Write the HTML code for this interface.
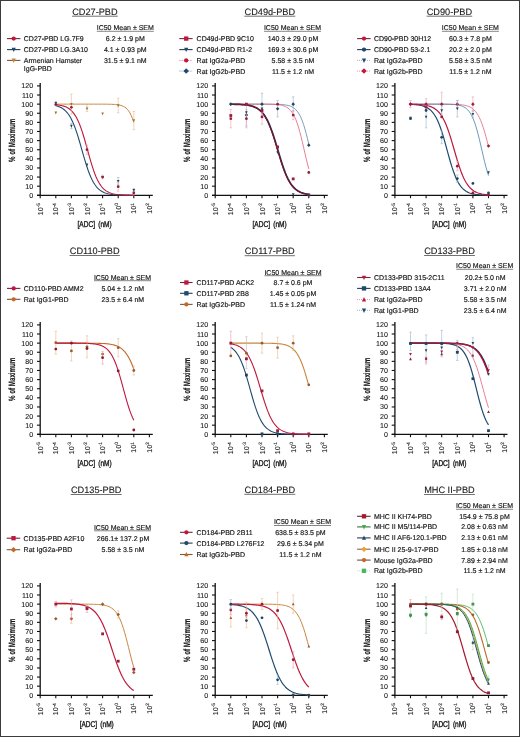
<!DOCTYPE html>
<html><head><meta charset="utf-8"><title>Figure</title>
<style>
html,body{margin:0;padding:0;background:#fff;}
body{width:520px;height:737px;overflow:hidden;position:relative;}
svg{position:absolute;left:0;top:0;display:block;filter:blur(0.3px);}
text{font-family:"Liberation Sans", sans-serif;text-rendering:geometricPrecision;}
.s{stroke:#111;stroke-width:0.16px;}
.t{stroke:#111;stroke-width:0.1px;}
.m{stroke:#111;stroke-width:0.35px;}
</style></head>
<body>
<svg width="520" height="737" viewBox="0 0 520 737">
<rect x="0" y="0" width="520" height="737" fill="#fff"/>
<text class="t" x="94.9" y="14.7" font-size="9.2" text-anchor="middle" font-weight="normal" fill="#1a1a1a" >CD27-PBD</text>
<line x1="72.05" y1="16.2" x2="117.75" y2="16.2" stroke="#333" stroke-width="0.7" />
<text class="s" x="125.3" y="30.1" font-size="7" text-anchor="middle" font-weight="normal" fill="#1a1a1a" >IC50 Mean ± SEM</text>
<line x1="96.8" y1="31.3" x2="153.8" y2="31.3" stroke="#333" stroke-width="0.6" />
<line x1="7" y1="38.6" x2="20.4" y2="38.6" stroke="#782436" stroke-width="1.1" />
<circle cx="13.7" cy="38.6" r="2.16" fill="#bf173d"/>
<text class="s" x="23.8" y="41.1" font-size="7" text-anchor="start" font-weight="normal" fill="#1a1a1a" >CD27-PBD LG.7F9</text>
<line x1="7" y1="49.6" x2="20.4" y2="49.6" stroke="#273d50" stroke-width="1.1" />
<path d="M11.6 47.79L15.8 47.79L13.7 52.11Z" fill="#1e4a70"/>
<text class="s" x="23.8" y="52.1" font-size="7" text-anchor="start" font-weight="normal" fill="#1a1a1a" >CD27-PBD LG.3A10</text>
<line x1="7" y1="60.4" x2="20.4" y2="60.4" stroke="#7c5b37" stroke-width="1.1" />
<path d="M11.6 58.59L15.8 58.59L13.7 62.91Z" fill="#c9863e"/>
<text class="s" x="23.8" y="62.9" font-size="7" text-anchor="start" font-weight="normal" fill="#1a1a1a" >Armenian Hamster</text>
<text class="s" x="23.8" y="71.4" font-size="7" text-anchor="start" font-weight="normal" fill="#1a1a1a" >IgG-PBD</text>
<text class="s" x="125.3" y="41.1" font-size="7" text-anchor="middle" font-weight="normal" fill="#1a1a1a" >6.2 ± 1.9 pM</text>
<text class="s" x="125.3" y="52.1" font-size="7" text-anchor="middle" font-weight="normal" fill="#1a1a1a" >4.1 ± 0.93 pM</text>
<text class="s" x="125.3" y="62.9" font-size="7" text-anchor="middle" font-weight="normal" fill="#1a1a1a" >31.5 ± 9.1 nM</text>
<line x1="40.2" y1="83.1" x2="40.2" y2="195.9" stroke="#111" stroke-width="1.3" />
<line x1="37" y1="195.3" x2="152.8" y2="195.3" stroke="#111" stroke-width="1.3" />
<line x1="37" y1="195.3" x2="40.2" y2="195.3" stroke="#111" stroke-width="1.1" />
<text class="t" x="33.2" y="197.8" font-size="7.1" text-anchor="end" font-weight="normal" fill="#1a1a1a" >0</text>
<line x1="37" y1="186.18" x2="40.2" y2="186.18" stroke="#111" stroke-width="1.1" />
<text class="t" x="33.2" y="188.68" font-size="7.1" text-anchor="end" font-weight="normal" fill="#1a1a1a" >10</text>
<line x1="37" y1="177.07" x2="40.2" y2="177.07" stroke="#111" stroke-width="1.1" />
<text class="t" x="33.2" y="179.57" font-size="7.1" text-anchor="end" font-weight="normal" fill="#1a1a1a" >20</text>
<line x1="37" y1="167.95" x2="40.2" y2="167.95" stroke="#111" stroke-width="1.1" />
<text class="t" x="33.2" y="170.45" font-size="7.1" text-anchor="end" font-weight="normal" fill="#1a1a1a" >30</text>
<line x1="37" y1="158.83" x2="40.2" y2="158.83" stroke="#111" stroke-width="1.1" />
<text class="t" x="33.2" y="161.33" font-size="7.1" text-anchor="end" font-weight="normal" fill="#1a1a1a" >40</text>
<line x1="37" y1="149.72" x2="40.2" y2="149.72" stroke="#111" stroke-width="1.1" />
<text class="t" x="33.2" y="152.22" font-size="7.1" text-anchor="end" font-weight="normal" fill="#1a1a1a" >50</text>
<line x1="37" y1="140.6" x2="40.2" y2="140.6" stroke="#111" stroke-width="1.1" />
<text class="t" x="33.2" y="143.1" font-size="7.1" text-anchor="end" font-weight="normal" fill="#1a1a1a" >60</text>
<line x1="37" y1="131.48" x2="40.2" y2="131.48" stroke="#111" stroke-width="1.1" />
<text class="t" x="33.2" y="133.98" font-size="7.1" text-anchor="end" font-weight="normal" fill="#1a1a1a" >70</text>
<line x1="37" y1="122.36" x2="40.2" y2="122.36" stroke="#111" stroke-width="1.1" />
<text class="t" x="33.2" y="124.86" font-size="7.1" text-anchor="end" font-weight="normal" fill="#1a1a1a" >80</text>
<line x1="37" y1="113.25" x2="40.2" y2="113.25" stroke="#111" stroke-width="1.1" />
<text class="t" x="33.2" y="115.75" font-size="7.1" text-anchor="end" font-weight="normal" fill="#1a1a1a" >90</text>
<line x1="37" y1="104.13" x2="40.2" y2="104.13" stroke="#111" stroke-width="1.1" />
<text class="t" x="33.2" y="106.63" font-size="7.1" text-anchor="end" font-weight="normal" fill="#1a1a1a" >100</text>
<line x1="37" y1="95.01" x2="40.2" y2="95.01" stroke="#111" stroke-width="1.1" />
<text class="t" x="33.2" y="97.51" font-size="7.1" text-anchor="end" font-weight="normal" fill="#1a1a1a" >110</text>
<line x1="37" y1="85.9" x2="40.2" y2="85.9" stroke="#111" stroke-width="1.1" />
<text class="t" x="33.2" y="88.4" font-size="7.1" text-anchor="end" font-weight="normal" fill="#1a1a1a" >120</text>
<line x1="40.2" y1="195.3" x2="40.2" y2="198.2" stroke="#111" stroke-width="1.1" />
<text transform="translate(42.7,203.2) rotate(-90)" font-size="7" text-anchor="end" fill="#1a1a1a" class="t">10<tspan font-size="4.8" dy="-2.7">-5</tspan></text>
<line x1="55.8" y1="195.3" x2="55.8" y2="198.2" stroke="#111" stroke-width="1.1" />
<text transform="translate(58.3,203.2) rotate(-90)" font-size="7" text-anchor="end" fill="#1a1a1a" class="t">10<tspan font-size="4.8" dy="-2.7">-4</tspan></text>
<line x1="71.4" y1="195.3" x2="71.4" y2="198.2" stroke="#111" stroke-width="1.1" />
<text transform="translate(73.9,203.2) rotate(-90)" font-size="7" text-anchor="end" fill="#1a1a1a" class="t">10<tspan font-size="4.8" dy="-2.7">-3</tspan></text>
<line x1="87" y1="195.3" x2="87" y2="198.2" stroke="#111" stroke-width="1.1" />
<text transform="translate(89.5,203.2) rotate(-90)" font-size="7" text-anchor="end" fill="#1a1a1a" class="t">10<tspan font-size="4.8" dy="-2.7">-2</tspan></text>
<line x1="102.6" y1="195.3" x2="102.6" y2="198.2" stroke="#111" stroke-width="1.1" />
<text transform="translate(105.1,203.2) rotate(-90)" font-size="7" text-anchor="end" fill="#1a1a1a" class="t">10<tspan font-size="4.8" dy="-2.7">-1</tspan></text>
<line x1="118.2" y1="195.3" x2="118.2" y2="198.2" stroke="#111" stroke-width="1.1" />
<text transform="translate(120.7,203.2) rotate(-90)" font-size="7" text-anchor="end" fill="#1a1a1a" class="t">10<tspan font-size="4.8" dy="-2.7">0</tspan></text>
<line x1="133.8" y1="195.3" x2="133.8" y2="198.2" stroke="#111" stroke-width="1.1" />
<text transform="translate(136.3,203.2) rotate(-90)" font-size="7" text-anchor="end" fill="#1a1a1a" class="t">10<tspan font-size="4.8" dy="-2.7">1</tspan></text>
<line x1="149.4" y1="195.3" x2="149.4" y2="198.2" stroke="#111" stroke-width="1.1" />
<text transform="translate(151.9,203.2) rotate(-90)" font-size="7" text-anchor="end" fill="#1a1a1a" class="t">10<tspan font-size="4.8" dy="-2.7">2</tspan></text>
<text transform="translate(15.4,140.3) rotate(-90) scale(0.68,1)" font-size="9.1" font-weight="bold" text-anchor="middle" fill="#1a1a1a" class="s">% of Maximum</text>
<text transform="translate(94.6,227.3) scale(0.78,1)" font-size="8.4" font-weight="normal" text-anchor="middle" fill="#1a1a1a" class="m" word-spacing="1.9">[ADC] (nM)</text>
<path d="M55.8 104.13 L57.1 104.13 L58.4 104.13 L59.7 104.13 L61 104.13 L62.3 104.13 L63.6 104.13 L64.9 104.13 L66.2 104.13 L67.5 104.13 L68.8 104.13 L70.1 104.13 L71.4 104.13 L72.7 104.13 L74 104.13 L75.3 104.13 L76.6 104.13 L77.9 104.13 L79.2 104.13 L80.5 104.13 L81.8 104.13 L83.1 104.13 L84.4 104.13 L85.7 104.13 L87 104.13 L88.3 104.13 L89.6 104.13 L90.9 104.13 L92.2 104.13 L93.5 104.13 L94.8 104.13 L96.1 104.14 L97.4 104.14 L98.7 104.14 L100 104.14 L101.3 104.15 L102.6 104.15 L103.9 104.16 L105.2 104.17 L106.5 104.18 L107.8 104.2 L109.1 104.23 L110.4 104.26 L111.7 104.3 L113 104.36 L114.3 104.43 L115.6 104.54 L116.9 104.67 L118.2 104.85 L119.5 105.09 L120.8 105.4 L122.1 105.82 L123.4 106.36 L124.7 107.08 L126 108.03 L127.3 109.26 L128.6 110.84 L129.9 112.86 L131.2 115.41 L132.5 118.58 L133.8 122.43" fill="none" stroke="#c9863e" stroke-width="1.0" stroke-linejoin="round" />
<path d="M55.8 105.71 L57.1 106.06 L58.4 106.47 L59.7 106.98 L61 107.59 L62.3 108.33 L63.6 109.22 L64.9 110.28 L66.2 111.54 L67.5 113.03 L68.8 114.78 L70.1 116.83 L71.4 119.19 L72.7 121.9 L74 124.96 L75.3 128.37 L76.6 132.12 L77.9 136.18 L79.2 140.48 L80.5 144.96 L81.8 149.53 L83.1 154.11 L84.4 158.6 L85.7 162.92 L87 166.99 L88.3 170.77 L89.6 174.21 L90.9 177.3 L92.2 180.03 L93.5 182.43 L94.8 184.5 L96.1 186.27 L97.4 187.78 L98.7 189.06 L100 190.14 L101.3 191.03 L102.6 191.78 L103.9 192.4 L105.2 192.92 L106.5 193.34 L107.8 193.69 L109.1 193.98 L110.4 194.22 L111.7 194.42 L113 194.58 L114.3 194.71 L115.6 194.81 L116.9 194.9 L118.2 194.98 L119.5 195.03 L120.8 195.08 L122.1 195.12 L123.4 195.15 L124.7 195.18 L126 195.2 L127.3 195.22 L128.6 195.23 L129.9 195.25 L131.2 195.26 L132.5 195.26 L133.8 195.27" fill="none" stroke="#1e4a70" stroke-width="1.1" stroke-linejoin="round" />
<path d="M55.8 104.71 L57.1 104.84 L58.4 105.01 L59.7 105.21 L61 105.45 L62.3 105.75 L63.6 106.12 L64.9 106.56 L66.2 107.1 L67.5 107.76 L68.8 108.55 L70.1 109.51 L71.4 110.66 L72.7 112.04 L74 113.67 L75.3 115.59 L76.6 117.83 L77.9 120.42 L79.2 123.38 L80.5 126.72 L81.8 130.42 L83.1 134.46 L84.4 138.78 L85.7 143.33 L87 148.02 L88.3 152.73 L89.6 157.39 L90.9 161.88 L92.2 166.14 L93.5 170.09 L94.8 173.69 L96.1 176.92 L97.4 179.77 L98.7 182.26 L100 184.41 L101.3 186.25 L102.6 187.8 L103.9 189.11 L105.2 190.2 L106.5 191.11 L107.8 191.87 L109.1 192.49 L110.4 193 L111.7 193.42 L113 193.77 L114.3 194.05 L115.6 194.28 L116.9 194.47 L118.2 194.63 L119.5 194.75 L120.8 194.85 L122.1 194.94 L123.4 195 L124.7 195.06 L126 195.1 L127.3 195.14 L128.6 195.17 L129.9 195.19 L131.2 195.21 L132.5 195.23 L133.8 195.24" fill="none" stroke="#bf173d" stroke-width="1.1" stroke-linejoin="round" />
<path d="M54.44 111.61L57.17 111.61L55.8 114.42Z" fill="#a3703a"/>
<line x1="71.4" y1="94.1" x2="71.4" y2="114.16" stroke="#e8b888" stroke-width="0.6" />
<line x1="70.2" y1="94.1" x2="72.6" y2="94.1" stroke="#e8b888" stroke-width="0.6" />
<line x1="70.2" y1="114.16" x2="72.6" y2="114.16" stroke="#e8b888" stroke-width="0.6" />
<path d="M70.04 102.95L72.77 102.95L71.4 105.76Z" fill="#a3703a"/>
<line x1="87" y1="105.95" x2="87" y2="111.42" stroke="#e8b888" stroke-width="0.6" />
<line x1="85.8" y1="105.95" x2="88.2" y2="105.95" stroke="#e8b888" stroke-width="0.6" />
<line x1="85.8" y1="111.42" x2="88.2" y2="111.42" stroke="#e8b888" stroke-width="0.6" />
<path d="M85.64 107.51L88.36 107.51L87 110.32Z" fill="#a3703a"/>
<path d="M101.23 112.52L103.96 112.52L102.6 115.33Z" fill="#a3703a"/>
<line x1="118.2" y1="98.2" x2="118.2" y2="112.79" stroke="#e8b888" stroke-width="0.6" />
<line x1="117" y1="98.2" x2="119.4" y2="98.2" stroke="#e8b888" stroke-width="0.6" />
<line x1="117" y1="112.79" x2="119.4" y2="112.79" stroke="#e8b888" stroke-width="0.6" />
<path d="M116.84 104.32L119.56 104.32L118.2 107.13Z" fill="#a3703a"/>
<line x1="133.8" y1="111.42" x2="133.8" y2="129.66" stroke="#e8b888" stroke-width="0.6" />
<line x1="132.6" y1="111.42" x2="135" y2="111.42" stroke="#e8b888" stroke-width="0.6" />
<line x1="132.6" y1="129.66" x2="135" y2="129.66" stroke="#e8b888" stroke-width="0.6" />
<path d="M132.44 119.36L135.17 119.36L133.8 122.17Z" fill="#a3703a"/>
<line x1="55.8" y1="101.39" x2="55.8" y2="105.04" stroke="#8fb0cc" stroke-width="0.6" />
<line x1="54.6" y1="101.39" x2="57" y2="101.39" stroke="#8fb0cc" stroke-width="0.6" />
<line x1="54.6" y1="105.04" x2="57" y2="105.04" stroke="#8fb0cc" stroke-width="0.6" />
<path d="M54.44 102.04L57.17 102.04L55.8 104.85Z" fill="#224460"/>
<line x1="71.4" y1="123.28" x2="71.4" y2="128.75" stroke="#8fb0cc" stroke-width="0.6" />
<line x1="70.2" y1="123.28" x2="72.6" y2="123.28" stroke="#8fb0cc" stroke-width="0.6" />
<line x1="70.2" y1="128.75" x2="72.6" y2="128.75" stroke="#8fb0cc" stroke-width="0.6" />
<path d="M70.04 124.83L72.77 124.83L71.4 127.64Z" fill="#224460"/>
<path d="M85.64 163.58L88.36 163.58L87 166.39Z" fill="#224460"/>
<path d="M101.23 175.89L103.96 175.89L102.6 178.69Z" fill="#224460"/>
<line x1="118.2" y1="177.52" x2="118.2" y2="184.82" stroke="#8fb0cc" stroke-width="0.6" />
<line x1="117" y1="177.52" x2="119.4" y2="177.52" stroke="#8fb0cc" stroke-width="0.6" />
<line x1="117" y1="184.82" x2="119.4" y2="184.82" stroke="#8fb0cc" stroke-width="0.6" />
<path d="M116.84 179.99L119.56 179.99L118.2 182.8Z" fill="#224460"/>
<line x1="133.8" y1="188.46" x2="133.8" y2="192.11" stroke="#8fb0cc" stroke-width="0.6" />
<line x1="132.6" y1="188.46" x2="135" y2="188.46" stroke="#8fb0cc" stroke-width="0.6" />
<line x1="132.6" y1="192.11" x2="135" y2="192.11" stroke="#8fb0cc" stroke-width="0.6" />
<path d="M132.44 189.11L135.17 189.11L133.8 191.91Z" fill="#224460"/>
<circle cx="55.8" cy="104.59" r="1.4" fill="#9b1d3a"/>
<circle cx="71.4" cy="107.32" r="1.4" fill="#9b1d3a"/>
<line x1="87" y1="145.16" x2="87" y2="154.27" stroke="#ec9aaa" stroke-width="0.6" />
<line x1="85.8" y1="145.16" x2="88.2" y2="145.16" stroke="#ec9aaa" stroke-width="0.6" />
<line x1="85.8" y1="154.27" x2="88.2" y2="154.27" stroke="#ec9aaa" stroke-width="0.6" />
<circle cx="87" cy="149.72" r="1.4" fill="#9b1d3a"/>
<line x1="102.6" y1="175.24" x2="102.6" y2="178.89" stroke="#ec9aaa" stroke-width="0.6" />
<line x1="101.4" y1="175.24" x2="103.8" y2="175.24" stroke="#ec9aaa" stroke-width="0.6" />
<line x1="101.4" y1="178.89" x2="103.8" y2="178.89" stroke="#ec9aaa" stroke-width="0.6" />
<circle cx="102.6" cy="177.07" r="1.4" fill="#9b1d3a"/>
<line x1="118.2" y1="182.08" x2="118.2" y2="191.2" stroke="#ec9aaa" stroke-width="0.6" />
<line x1="117" y1="182.08" x2="119.4" y2="182.08" stroke="#ec9aaa" stroke-width="0.6" />
<line x1="117" y1="191.2" x2="119.4" y2="191.2" stroke="#ec9aaa" stroke-width="0.6" />
<circle cx="118.2" cy="186.64" r="1.4" fill="#9b1d3a"/>
<line x1="133.8" y1="191.2" x2="133.8" y2="194.84" stroke="#ec9aaa" stroke-width="0.6" />
<line x1="132.6" y1="191.2" x2="135" y2="191.2" stroke="#ec9aaa" stroke-width="0.6" />
<line x1="132.6" y1="194.84" x2="135" y2="194.84" stroke="#ec9aaa" stroke-width="0.6" />
<circle cx="133.8" cy="193.02" r="1.4" fill="#9b1d3a"/>
<text class="t" x="269.8" y="14.7" font-size="9.2" text-anchor="middle" font-weight="normal" fill="#1a1a1a" >CD49d-PBD</text>
<line x1="244.3" y1="16.2" x2="295.3" y2="16.2" stroke="#333" stroke-width="0.7" />
<text class="s" x="292.5" y="30.1" font-size="7" text-anchor="middle" font-weight="normal" fill="#1a1a1a" >IC50 Mean ± SEM</text>
<line x1="264" y1="31.3" x2="321" y2="31.3" stroke="#333" stroke-width="0.6" />
<line x1="179.3" y1="38.6" x2="192.6" y2="38.6" stroke="#782436" stroke-width="1.1" />
<rect x="184.04" y="36.44" width="4.32" height="4.32" fill="#bf173d"/>
<text class="s" x="196.6" y="41.1" font-size="7" text-anchor="start" font-weight="normal" fill="#1a1a1a" >CD49d-PBD 9C10</text>
<line x1="179.3" y1="49.6" x2="192.6" y2="49.6" stroke="#273d50" stroke-width="1.1" />
<path d="M184.1 47.79L188.3 47.79L186.2 52.11Z" fill="#1e4a70"/>
<text class="s" x="196.6" y="52.1" font-size="7" text-anchor="start" font-weight="normal" fill="#1a1a1a" >CD49d-PBD R1-2</text>
<line x1="179.3" y1="60.4" x2="192.6" y2="60.4" stroke="#e0607a" stroke-width="0.8" stroke-dasharray="1.2,1"/>
<circle cx="186.2" cy="60.4" r="2.16" fill="#bf173d"/>
<text class="s" x="196.6" y="62.9" font-size="7" text-anchor="start" font-weight="normal" fill="#1a1a1a" >Rat IgG2a-PBD</text>
<line x1="179.3" y1="71.1" x2="192.6" y2="71.1" stroke="#6f8fb0" stroke-width="0.8" stroke-dasharray="1.2,1"/>
<path d="M186.2 68.34L188.96 71.1L186.2 73.86L183.44 71.1Z" fill="#1e4a70"/>
<text class="s" x="196.6" y="73.6" font-size="7" text-anchor="start" font-weight="normal" fill="#1a1a1a" >Rat IgG2b-PBD</text>
<text class="s" x="293" y="41.1" font-size="7" text-anchor="middle" font-weight="normal" fill="#1a1a1a" >140.3 ± 29.0 pM</text>
<text class="s" x="293" y="52.1" font-size="7" text-anchor="middle" font-weight="normal" fill="#1a1a1a" >169.3 ± 30.6 pM</text>
<text class="s" x="293" y="62.9" font-size="7" text-anchor="middle" font-weight="normal" fill="#1a1a1a" >5.58 ± 3.5 nM</text>
<text class="s" x="293" y="73.6" font-size="7" text-anchor="middle" font-weight="normal" fill="#1a1a1a" >11.5 ± 1.2 nM</text>
<line x1="215.2" y1="83.1" x2="215.2" y2="195.9" stroke="#111" stroke-width="1.3" />
<line x1="212" y1="195.3" x2="327.8" y2="195.3" stroke="#111" stroke-width="1.3" />
<line x1="212" y1="195.3" x2="215.2" y2="195.3" stroke="#111" stroke-width="1.1" />
<text class="t" x="208.2" y="197.8" font-size="7.1" text-anchor="end" font-weight="normal" fill="#1a1a1a" >0</text>
<line x1="212" y1="186.18" x2="215.2" y2="186.18" stroke="#111" stroke-width="1.1" />
<text class="t" x="208.2" y="188.68" font-size="7.1" text-anchor="end" font-weight="normal" fill="#1a1a1a" >10</text>
<line x1="212" y1="177.07" x2="215.2" y2="177.07" stroke="#111" stroke-width="1.1" />
<text class="t" x="208.2" y="179.57" font-size="7.1" text-anchor="end" font-weight="normal" fill="#1a1a1a" >20</text>
<line x1="212" y1="167.95" x2="215.2" y2="167.95" stroke="#111" stroke-width="1.1" />
<text class="t" x="208.2" y="170.45" font-size="7.1" text-anchor="end" font-weight="normal" fill="#1a1a1a" >30</text>
<line x1="212" y1="158.83" x2="215.2" y2="158.83" stroke="#111" stroke-width="1.1" />
<text class="t" x="208.2" y="161.33" font-size="7.1" text-anchor="end" font-weight="normal" fill="#1a1a1a" >40</text>
<line x1="212" y1="149.72" x2="215.2" y2="149.72" stroke="#111" stroke-width="1.1" />
<text class="t" x="208.2" y="152.22" font-size="7.1" text-anchor="end" font-weight="normal" fill="#1a1a1a" >50</text>
<line x1="212" y1="140.6" x2="215.2" y2="140.6" stroke="#111" stroke-width="1.1" />
<text class="t" x="208.2" y="143.1" font-size="7.1" text-anchor="end" font-weight="normal" fill="#1a1a1a" >60</text>
<line x1="212" y1="131.48" x2="215.2" y2="131.48" stroke="#111" stroke-width="1.1" />
<text class="t" x="208.2" y="133.98" font-size="7.1" text-anchor="end" font-weight="normal" fill="#1a1a1a" >70</text>
<line x1="212" y1="122.36" x2="215.2" y2="122.36" stroke="#111" stroke-width="1.1" />
<text class="t" x="208.2" y="124.86" font-size="7.1" text-anchor="end" font-weight="normal" fill="#1a1a1a" >80</text>
<line x1="212" y1="113.25" x2="215.2" y2="113.25" stroke="#111" stroke-width="1.1" />
<text class="t" x="208.2" y="115.75" font-size="7.1" text-anchor="end" font-weight="normal" fill="#1a1a1a" >90</text>
<line x1="212" y1="104.13" x2="215.2" y2="104.13" stroke="#111" stroke-width="1.1" />
<text class="t" x="208.2" y="106.63" font-size="7.1" text-anchor="end" font-weight="normal" fill="#1a1a1a" >100</text>
<line x1="212" y1="95.01" x2="215.2" y2="95.01" stroke="#111" stroke-width="1.1" />
<text class="t" x="208.2" y="97.51" font-size="7.1" text-anchor="end" font-weight="normal" fill="#1a1a1a" >110</text>
<line x1="212" y1="85.9" x2="215.2" y2="85.9" stroke="#111" stroke-width="1.1" />
<text class="t" x="208.2" y="88.4" font-size="7.1" text-anchor="end" font-weight="normal" fill="#1a1a1a" >120</text>
<line x1="215.2" y1="195.3" x2="215.2" y2="198.2" stroke="#111" stroke-width="1.1" />
<text transform="translate(217.7,203.2) rotate(-90)" font-size="7" text-anchor="end" fill="#1a1a1a" class="t">10<tspan font-size="4.8" dy="-2.7">-5</tspan></text>
<line x1="230.8" y1="195.3" x2="230.8" y2="198.2" stroke="#111" stroke-width="1.1" />
<text transform="translate(233.3,203.2) rotate(-90)" font-size="7" text-anchor="end" fill="#1a1a1a" class="t">10<tspan font-size="4.8" dy="-2.7">-4</tspan></text>
<line x1="246.4" y1="195.3" x2="246.4" y2="198.2" stroke="#111" stroke-width="1.1" />
<text transform="translate(248.9,203.2) rotate(-90)" font-size="7" text-anchor="end" fill="#1a1a1a" class="t">10<tspan font-size="4.8" dy="-2.7">-3</tspan></text>
<line x1="262" y1="195.3" x2="262" y2="198.2" stroke="#111" stroke-width="1.1" />
<text transform="translate(264.5,203.2) rotate(-90)" font-size="7" text-anchor="end" fill="#1a1a1a" class="t">10<tspan font-size="4.8" dy="-2.7">-2</tspan></text>
<line x1="277.6" y1="195.3" x2="277.6" y2="198.2" stroke="#111" stroke-width="1.1" />
<text transform="translate(280.1,203.2) rotate(-90)" font-size="7" text-anchor="end" fill="#1a1a1a" class="t">10<tspan font-size="4.8" dy="-2.7">-1</tspan></text>
<line x1="293.2" y1="195.3" x2="293.2" y2="198.2" stroke="#111" stroke-width="1.1" />
<text transform="translate(295.7,203.2) rotate(-90)" font-size="7" text-anchor="end" fill="#1a1a1a" class="t">10<tspan font-size="4.8" dy="-2.7">0</tspan></text>
<line x1="308.8" y1="195.3" x2="308.8" y2="198.2" stroke="#111" stroke-width="1.1" />
<text transform="translate(311.3,203.2) rotate(-90)" font-size="7" text-anchor="end" fill="#1a1a1a" class="t">10<tspan font-size="4.8" dy="-2.7">1</tspan></text>
<line x1="324.4" y1="195.3" x2="324.4" y2="198.2" stroke="#111" stroke-width="1.1" />
<text transform="translate(326.9,203.2) rotate(-90)" font-size="7" text-anchor="end" fill="#1a1a1a" class="t">10<tspan font-size="4.8" dy="-2.7">2</tspan></text>
<text transform="translate(190.4,140.3) rotate(-90) scale(0.68,1)" font-size="9.1" font-weight="bold" text-anchor="middle" fill="#1a1a1a" class="s">% of Maximum</text>
<text transform="translate(269.6,227.3) scale(0.78,1)" font-size="8.4" font-weight="normal" text-anchor="middle" fill="#1a1a1a" class="m" word-spacing="1.9">[ADC] (nM)</text>
<path d="M230.8 104.13 L232.1 104.13 L233.4 104.13 L234.7 104.13 L236 104.13 L237.3 104.13 L238.6 104.13 L239.9 104.13 L241.2 104.13 L242.5 104.13 L243.8 104.13 L245.1 104.13 L246.4 104.13 L247.7 104.13 L249 104.13 L250.3 104.13 L251.6 104.13 L252.9 104.13 L254.2 104.13 L255.5 104.13 L256.8 104.13 L258.1 104.13 L259.4 104.14 L260.7 104.14 L262 104.14 L263.3 104.14 L264.6 104.14 L265.9 104.15 L267.2 104.15 L268.5 104.16 L269.8 104.17 L271.1 104.18 L272.4 104.2 L273.7 104.22 L275 104.24 L276.3 104.27 L277.6 104.31 L278.9 104.36 L280.2 104.43 L281.5 104.51 L282.8 104.62 L284.1 104.75 L285.4 104.93 L286.7 105.15 L288 105.44 L289.3 105.8 L290.6 106.26 L291.9 106.85 L293.2 107.59 L294.5 108.52 L295.8 109.69 L297.1 111.15 L298.4 112.94 L299.7 115.14 L301 117.79 L302.3 120.94 L303.6 124.64 L304.9 128.87 L306.2 133.61 L307.5 138.79 L308.8 144.28" fill="none" stroke="#5a86a8" stroke-width="0.8" stroke-linejoin="round" />
<path d="M230.8 104.13 L232.1 104.13 L233.4 104.13 L234.7 104.13 L236 104.13 L237.3 104.13 L238.6 104.13 L239.9 104.13 L241.2 104.13 L242.5 104.13 L243.8 104.13 L245.1 104.13 L246.4 104.13 L247.7 104.13 L249 104.13 L250.3 104.13 L251.6 104.13 L252.9 104.13 L254.2 104.14 L255.5 104.14 L256.8 104.14 L258.1 104.14 L259.4 104.15 L260.7 104.15 L262 104.16 L263.3 104.17 L264.6 104.18 L265.9 104.19 L267.2 104.21 L268.5 104.23 L269.8 104.26 L271.1 104.29 L272.4 104.34 L273.7 104.4 L275 104.47 L276.3 104.57 L277.6 104.69 L278.9 104.85 L280.2 105.05 L281.5 105.3 L282.8 105.63 L284.1 106.05 L285.4 106.57 L286.7 107.24 L288 108.09 L289.3 109.15 L290.6 110.47 L291.9 112.11 L293.2 114.12 L294.5 116.56 L295.8 119.49 L297.1 122.94 L298.4 126.94 L299.7 131.47 L301 136.46 L302.3 141.84 L303.6 147.44 L304.9 153.12 L306.2 158.69 L307.5 164 L308.8 168.91" fill="none" stroke="#e0607a" stroke-width="0.8" stroke-linejoin="round" />
<path d="M230.8 104.22 L232.1 104.24 L233.4 104.26 L234.7 104.29 L236 104.32 L237.3 104.36 L238.6 104.41 L239.9 104.47 L241.2 104.54 L242.5 104.63 L243.8 104.73 L245.1 104.86 L246.4 105.01 L247.7 105.2 L249 105.42 L250.3 105.69 L251.6 106.01 L252.9 106.4 L254.2 106.86 L255.5 107.42 L256.8 108.09 L258.1 108.88 L259.4 109.82 L260.7 110.94 L262 112.25 L263.3 113.78 L264.6 115.57 L265.9 117.63 L267.2 119.99 L268.5 122.66 L269.8 125.65 L271.1 128.97 L272.4 132.58 L273.7 136.46 L275 140.57 L276.3 144.84 L277.6 149.19 L278.9 153.55 L280.2 157.85 L281.5 162 L282.8 165.94 L284.1 169.62 L285.4 173.01 L286.7 176.08 L288 178.83 L289.3 181.26 L290.6 183.39 L291.9 185.24 L293.2 186.84 L294.5 188.2 L295.8 189.36 L297.1 190.34 L298.4 191.17 L299.7 191.86 L301 192.44 L302.3 192.93 L303.6 193.33 L304.9 193.67 L306.2 193.95 L307.5 194.18 L308.8 194.38" fill="none" stroke="#2a2a4a" stroke-width="1.7" stroke-linejoin="round" />
<path d="M230.8 104.22 L232.1 104.24 L233.4 104.27 L234.7 104.3 L236 104.33 L237.3 104.37 L238.6 104.42 L239.9 104.49 L241.2 104.56 L242.5 104.65 L243.8 104.76 L245.1 104.89 L246.4 105.05 L247.7 105.25 L249 105.48 L250.3 105.76 L251.6 106.1 L252.9 106.5 L254.2 106.99 L255.5 107.57 L256.8 108.26 L258.1 109.09 L259.4 110.07 L260.7 111.23 L262 112.59 L263.3 114.19 L264.6 116.04 L265.9 118.17 L267.2 120.6 L268.5 123.35 L269.8 126.42 L271.1 129.81 L272.4 133.49 L273.7 137.43 L275 141.58 L276.3 145.88 L277.6 150.24 L278.9 154.59 L280.2 158.86 L281.5 162.97 L282.8 166.85 L284.1 170.46 L285.4 173.78 L286.7 176.77 L288 179.44 L289.3 181.8 L290.6 183.86 L291.9 185.65 L293.2 187.18 L294.5 188.49 L295.8 189.61 L297.1 190.55 L298.4 191.34 L299.7 192.01 L301 192.57 L302.3 193.03 L303.6 193.42 L304.9 193.74 L306.2 194.01 L307.5 194.23 L308.8 194.42" fill="none" stroke="#7a1632" stroke-width="1.1" stroke-linejoin="round" />
<path d="M230.8 102.34L232.59 104.13L230.8 105.92L229.01 104.13Z" fill="#224460"/>
<line x1="246.4" y1="104.13" x2="246.4" y2="126.01" stroke="#98b4cc" stroke-width="0.6" />
<line x1="245.2" y1="104.13" x2="247.6" y2="104.13" stroke="#98b4cc" stroke-width="0.6" />
<line x1="245.2" y1="126.01" x2="247.6" y2="126.01" stroke="#98b4cc" stroke-width="0.6" />
<path d="M246.4 113.28L248.19 115.07L246.4 116.86L244.61 115.07Z" fill="#224460"/>
<line x1="262" y1="93.19" x2="262" y2="115.07" stroke="#98b4cc" stroke-width="0.6" />
<line x1="260.8" y1="93.19" x2="263.2" y2="93.19" stroke="#98b4cc" stroke-width="0.6" />
<line x1="260.8" y1="115.07" x2="263.2" y2="115.07" stroke="#98b4cc" stroke-width="0.6" />
<path d="M262 102.34L263.79 104.13L262 105.92L260.21 104.13Z" fill="#224460"/>
<line x1="277.6" y1="100.48" x2="277.6" y2="116.89" stroke="#98b4cc" stroke-width="0.6" />
<line x1="276.4" y1="100.48" x2="278.8" y2="100.48" stroke="#98b4cc" stroke-width="0.6" />
<line x1="276.4" y1="116.89" x2="278.8" y2="116.89" stroke="#98b4cc" stroke-width="0.6" />
<path d="M277.6 106.89L279.39 108.69L277.6 110.48L275.81 108.69Z" fill="#224460"/>
<line x1="293.2" y1="96.84" x2="293.2" y2="111.42" stroke="#98b4cc" stroke-width="0.6" />
<line x1="292" y1="96.84" x2="294.4" y2="96.84" stroke="#98b4cc" stroke-width="0.6" />
<line x1="292" y1="111.42" x2="294.4" y2="111.42" stroke="#98b4cc" stroke-width="0.6" />
<path d="M293.2 102.34L294.99 104.13L293.2 105.92L291.41 104.13Z" fill="#224460"/>
<path d="M308.8 143.36L310.59 145.16L308.8 146.95L307.01 145.16Z" fill="#224460"/>
<line x1="230.8" y1="109.6" x2="230.8" y2="127.83" stroke="#ef9fb0" stroke-width="0.6" />
<line x1="229.6" y1="109.6" x2="232" y2="109.6" stroke="#ef9fb0" stroke-width="0.6" />
<line x1="229.6" y1="127.83" x2="232" y2="127.83" stroke="#ef9fb0" stroke-width="0.6" />
<circle cx="230.8" cy="118.72" r="1.4" fill="#9b1d3a"/>
<line x1="246.4" y1="109.6" x2="246.4" y2="127.83" stroke="#ef9fb0" stroke-width="0.6" />
<line x1="245.2" y1="109.6" x2="247.6" y2="109.6" stroke="#ef9fb0" stroke-width="0.6" />
<line x1="245.2" y1="127.83" x2="247.6" y2="127.83" stroke="#ef9fb0" stroke-width="0.6" />
<circle cx="246.4" cy="118.72" r="1.4" fill="#9b1d3a"/>
<line x1="262" y1="109.6" x2="262" y2="124.19" stroke="#ef9fb0" stroke-width="0.6" />
<line x1="260.8" y1="109.6" x2="263.2" y2="109.6" stroke="#ef9fb0" stroke-width="0.6" />
<line x1="260.8" y1="124.19" x2="263.2" y2="124.19" stroke="#ef9fb0" stroke-width="0.6" />
<circle cx="262" cy="116.89" r="1.4" fill="#9b1d3a"/>
<circle cx="277.6" cy="104.13" r="1.4" fill="#9b1d3a"/>
<line x1="293.2" y1="110.51" x2="293.2" y2="119.63" stroke="#ef9fb0" stroke-width="0.6" />
<line x1="292" y1="110.51" x2="294.4" y2="110.51" stroke="#ef9fb0" stroke-width="0.6" />
<line x1="292" y1="119.63" x2="294.4" y2="119.63" stroke="#ef9fb0" stroke-width="0.6" />
<circle cx="293.2" cy="115.07" r="1.4" fill="#9b1d3a"/>
<circle cx="308.8" cy="172.51" r="1.4" fill="#9b1d3a"/>
<rect x="229.4" y="114.12" width="2.81" height="2.81" fill="#9b1d3a"/>
<rect x="245" y="102.73" width="2.81" height="2.81" fill="#9b1d3a"/>
<rect x="260.6" y="109.11" width="2.81" height="2.81" fill="#9b1d3a"/>
<rect x="276.2" y="145.58" width="2.81" height="2.81" fill="#9b1d3a"/>
<rect x="291.8" y="177.49" width="2.81" height="2.81" fill="#9b1d3a"/>
<rect x="307.4" y="193.44" width="2.81" height="2.81" fill="#9b1d3a"/>
<path d="M229.43 102.95L232.16 102.95L230.8 105.76Z" fill="#224460"/>
<path d="M245.03 111.16L247.76 111.16L246.4 113.96Z" fill="#224460"/>
<path d="M260.63 107.51L263.37 107.51L262 110.32Z" fill="#224460"/>
<path d="M276.23 151.27L278.96 151.27L277.6 154.08Z" fill="#224460"/>
<path d="M291.83 193.21L294.56 193.21L293.2 196.02Z" fill="#224460"/>
<path d="M307.43 194.12L310.16 194.12L308.8 196.93Z" fill="#224460"/>
<text class="t" x="449.4" y="14.7" font-size="9.2" text-anchor="middle" font-weight="normal" fill="#1a1a1a" >CD90-PBD</text>
<line x1="426.55" y1="16.2" x2="472.25" y2="16.2" stroke="#333" stroke-width="0.7" />
<text class="s" x="470.4" y="30.1" font-size="7" text-anchor="middle" font-weight="normal" fill="#1a1a1a" >IC50 Mean ± SEM</text>
<line x1="441.9" y1="31.3" x2="498.9" y2="31.3" stroke="#333" stroke-width="0.6" />
<line x1="357.1" y1="38.6" x2="370.6" y2="38.6" stroke="#782436" stroke-width="1.1" />
<circle cx="364" cy="38.6" r="2.16" fill="#bf173d"/>
<text class="s" x="373.9" y="41.1" font-size="7" text-anchor="start" font-weight="normal" fill="#1a1a1a" >CD90-PBD 30H12</text>
<line x1="357.1" y1="49.6" x2="370.6" y2="49.6" stroke="#273d50" stroke-width="1.1" />
<circle cx="364" cy="49.6" r="2.16" fill="#1e4a70"/>
<text class="s" x="373.9" y="52.1" font-size="7" text-anchor="start" font-weight="normal" fill="#1a1a1a" >CD90-PBD 53-2.1</text>
<line x1="357.1" y1="60.4" x2="370.6" y2="60.4" stroke="#6f8fb0" stroke-width="0.8" stroke-dasharray="0.8,1.2"/>
<path d="M361.9 58.59L366.1 58.59L364 62.91Z" fill="#1e4a70"/>
<text class="s" x="373.9" y="62.9" font-size="7" text-anchor="start" font-weight="normal" fill="#1a1a1a" >Rat IgG2a-PBD</text>
<line x1="357.1" y1="71.1" x2="370.6" y2="71.1" stroke="#e0607a" stroke-width="0.8" stroke-dasharray="0.8,1.2"/>
<path d="M364 68.34L366.76 71.1L364 73.86L361.24 71.1Z" fill="#bf173d"/>
<text class="s" x="373.9" y="73.6" font-size="7" text-anchor="start" font-weight="normal" fill="#1a1a1a" >Rat IgG2b-PBD</text>
<text class="s" x="470.4" y="41.1" font-size="7" text-anchor="middle" font-weight="normal" fill="#1a1a1a" >60.3 ± 7.8 pM</text>
<text class="s" x="470.4" y="52.1" font-size="7" text-anchor="middle" font-weight="normal" fill="#1a1a1a" >20.2 ± 2.0 pM</text>
<text class="s" x="470.4" y="62.9" font-size="7" text-anchor="middle" font-weight="normal" fill="#1a1a1a" >5.58 ± 3.5 nM</text>
<text class="s" x="470.4" y="73.6" font-size="7" text-anchor="middle" font-weight="normal" fill="#1a1a1a" >11.5 ± 1.2 nM</text>
<line x1="394.9" y1="83.1" x2="394.9" y2="195.9" stroke="#111" stroke-width="1.3" />
<line x1="391.7" y1="195.3" x2="507.5" y2="195.3" stroke="#111" stroke-width="1.3" />
<line x1="391.7" y1="195.3" x2="394.9" y2="195.3" stroke="#111" stroke-width="1.1" />
<text class="t" x="387.9" y="197.8" font-size="7.1" text-anchor="end" font-weight="normal" fill="#1a1a1a" >0</text>
<line x1="391.7" y1="186.18" x2="394.9" y2="186.18" stroke="#111" stroke-width="1.1" />
<text class="t" x="387.9" y="188.68" font-size="7.1" text-anchor="end" font-weight="normal" fill="#1a1a1a" >10</text>
<line x1="391.7" y1="177.07" x2="394.9" y2="177.07" stroke="#111" stroke-width="1.1" />
<text class="t" x="387.9" y="179.57" font-size="7.1" text-anchor="end" font-weight="normal" fill="#1a1a1a" >20</text>
<line x1="391.7" y1="167.95" x2="394.9" y2="167.95" stroke="#111" stroke-width="1.1" />
<text class="t" x="387.9" y="170.45" font-size="7.1" text-anchor="end" font-weight="normal" fill="#1a1a1a" >30</text>
<line x1="391.7" y1="158.83" x2="394.9" y2="158.83" stroke="#111" stroke-width="1.1" />
<text class="t" x="387.9" y="161.33" font-size="7.1" text-anchor="end" font-weight="normal" fill="#1a1a1a" >40</text>
<line x1="391.7" y1="149.72" x2="394.9" y2="149.72" stroke="#111" stroke-width="1.1" />
<text class="t" x="387.9" y="152.22" font-size="7.1" text-anchor="end" font-weight="normal" fill="#1a1a1a" >50</text>
<line x1="391.7" y1="140.6" x2="394.9" y2="140.6" stroke="#111" stroke-width="1.1" />
<text class="t" x="387.9" y="143.1" font-size="7.1" text-anchor="end" font-weight="normal" fill="#1a1a1a" >60</text>
<line x1="391.7" y1="131.48" x2="394.9" y2="131.48" stroke="#111" stroke-width="1.1" />
<text class="t" x="387.9" y="133.98" font-size="7.1" text-anchor="end" font-weight="normal" fill="#1a1a1a" >70</text>
<line x1="391.7" y1="122.36" x2="394.9" y2="122.36" stroke="#111" stroke-width="1.1" />
<text class="t" x="387.9" y="124.86" font-size="7.1" text-anchor="end" font-weight="normal" fill="#1a1a1a" >80</text>
<line x1="391.7" y1="113.25" x2="394.9" y2="113.25" stroke="#111" stroke-width="1.1" />
<text class="t" x="387.9" y="115.75" font-size="7.1" text-anchor="end" font-weight="normal" fill="#1a1a1a" >90</text>
<line x1="391.7" y1="104.13" x2="394.9" y2="104.13" stroke="#111" stroke-width="1.1" />
<text class="t" x="387.9" y="106.63" font-size="7.1" text-anchor="end" font-weight="normal" fill="#1a1a1a" >100</text>
<line x1="391.7" y1="95.01" x2="394.9" y2="95.01" stroke="#111" stroke-width="1.1" />
<text class="t" x="387.9" y="97.51" font-size="7.1" text-anchor="end" font-weight="normal" fill="#1a1a1a" >110</text>
<line x1="391.7" y1="85.9" x2="394.9" y2="85.9" stroke="#111" stroke-width="1.1" />
<text class="t" x="387.9" y="88.4" font-size="7.1" text-anchor="end" font-weight="normal" fill="#1a1a1a" >120</text>
<line x1="394.9" y1="195.3" x2="394.9" y2="198.2" stroke="#111" stroke-width="1.1" />
<text transform="translate(397.4,203.2) rotate(-90)" font-size="7" text-anchor="end" fill="#1a1a1a" class="t">10<tspan font-size="4.8" dy="-2.7">-5</tspan></text>
<line x1="410.5" y1="195.3" x2="410.5" y2="198.2" stroke="#111" stroke-width="1.1" />
<text transform="translate(413,203.2) rotate(-90)" font-size="7" text-anchor="end" fill="#1a1a1a" class="t">10<tspan font-size="4.8" dy="-2.7">-4</tspan></text>
<line x1="426.1" y1="195.3" x2="426.1" y2="198.2" stroke="#111" stroke-width="1.1" />
<text transform="translate(428.6,203.2) rotate(-90)" font-size="7" text-anchor="end" fill="#1a1a1a" class="t">10<tspan font-size="4.8" dy="-2.7">-3</tspan></text>
<line x1="441.7" y1="195.3" x2="441.7" y2="198.2" stroke="#111" stroke-width="1.1" />
<text transform="translate(444.2,203.2) rotate(-90)" font-size="7" text-anchor="end" fill="#1a1a1a" class="t">10<tspan font-size="4.8" dy="-2.7">-2</tspan></text>
<line x1="457.3" y1="195.3" x2="457.3" y2="198.2" stroke="#111" stroke-width="1.1" />
<text transform="translate(459.8,203.2) rotate(-90)" font-size="7" text-anchor="end" fill="#1a1a1a" class="t">10<tspan font-size="4.8" dy="-2.7">-1</tspan></text>
<line x1="472.9" y1="195.3" x2="472.9" y2="198.2" stroke="#111" stroke-width="1.1" />
<text transform="translate(475.4,203.2) rotate(-90)" font-size="7" text-anchor="end" fill="#1a1a1a" class="t">10<tspan font-size="4.8" dy="-2.7">0</tspan></text>
<line x1="488.5" y1="195.3" x2="488.5" y2="198.2" stroke="#111" stroke-width="1.1" />
<text transform="translate(491,203.2) rotate(-90)" font-size="7" text-anchor="end" fill="#1a1a1a" class="t">10<tspan font-size="4.8" dy="-2.7">1</tspan></text>
<line x1="504.1" y1="195.3" x2="504.1" y2="198.2" stroke="#111" stroke-width="1.1" />
<text transform="translate(506.6,203.2) rotate(-90)" font-size="7" text-anchor="end" fill="#1a1a1a" class="t">10<tspan font-size="4.8" dy="-2.7">2</tspan></text>
<text transform="translate(370.1,140.3) rotate(-90) scale(0.68,1)" font-size="9.1" font-weight="bold" text-anchor="middle" fill="#1a1a1a" class="s">% of Maximum</text>
<text transform="translate(449.3,227.3) scale(0.78,1)" font-size="8.4" font-weight="normal" text-anchor="middle" fill="#1a1a1a" class="m" word-spacing="1.9">[ADC] (nM)</text>
<path d="M410.5 104.13 L411.8 104.13 L413.1 104.13 L414.4 104.13 L415.7 104.13 L417 104.13 L418.3 104.13 L419.6 104.13 L420.9 104.13 L422.2 104.13 L423.5 104.13 L424.8 104.13 L426.1 104.13 L427.4 104.13 L428.7 104.13 L430 104.13 L431.3 104.13 L432.6 104.13 L433.9 104.14 L435.2 104.14 L436.5 104.14 L437.8 104.14 L439.1 104.14 L440.4 104.15 L441.7 104.15 L443 104.16 L444.3 104.16 L445.6 104.17 L446.9 104.18 L448.2 104.19 L449.5 104.21 L450.8 104.23 L452.1 104.26 L453.4 104.29 L454.7 104.33 L456 104.38 L457.3 104.45 L458.6 104.53 L459.9 104.63 L461.2 104.76 L462.5 104.92 L463.8 105.12 L465.1 105.37 L466.4 105.69 L467.7 106.08 L469 106.57 L470.3 107.19 L471.6 107.94 L472.9 108.88 L474.2 110.03 L475.5 111.43 L476.8 113.14 L478.1 115.19 L479.4 117.63 L480.7 120.5 L482 123.82 L483.3 127.6 L484.6 131.83 L485.9 136.46 L487.2 141.41 L488.5 146.57" fill="none" stroke="#e0607a" stroke-width="0.8" stroke-linejoin="round" />
<path d="M410.5 104.13 L411.8 104.13 L413.1 104.13 L414.4 104.13 L415.7 104.13 L417 104.13 L418.3 104.13 L419.6 104.13 L420.9 104.13 L422.2 104.13 L423.5 104.13 L424.8 104.13 L426.1 104.13 L427.4 104.13 L428.7 104.13 L430 104.13 L431.3 104.14 L432.6 104.14 L433.9 104.14 L435.2 104.14 L436.5 104.15 L437.8 104.15 L439.1 104.16 L440.4 104.16 L441.7 104.17 L443 104.18 L444.3 104.2 L445.6 104.22 L446.9 104.24 L448.2 104.27 L449.5 104.32 L450.8 104.37 L452.1 104.43 L453.4 104.52 L454.7 104.63 L456 104.77 L457.3 104.95 L458.6 105.18 L459.9 105.48 L461.2 105.85 L462.5 106.33 L463.8 106.93 L465.1 107.69 L466.4 108.65 L467.7 109.85 L469 111.34 L470.3 113.18 L471.6 115.43 L472.9 118.14 L474.2 121.36 L475.5 125.12 L476.8 129.41 L478.1 134.21 L479.4 139.43 L480.7 144.96 L482 150.62 L483.3 156.26 L484.6 161.71 L485.9 166.81 L487.2 171.45 L488.5 175.58" fill="none" stroke="#4a7ba8" stroke-width="0.8" stroke-linejoin="round" />
<path d="M410.5 104.39 L411.8 104.45 L413.1 104.52 L414.4 104.61 L415.7 104.72 L417 104.85 L418.3 105.02 L419.6 105.23 L420.9 105.48 L422.2 105.78 L423.5 106.16 L424.8 106.62 L426.1 107.18 L427.4 107.86 L428.7 108.69 L430 109.68 L431.3 110.88 L432.6 112.31 L433.9 114 L435.2 116 L436.5 118.33 L437.8 121.02 L439.1 124.09 L440.4 127.55 L441.7 131.37 L443 135.52 L444.3 139.95 L445.6 144.59 L446.9 149.33 L448.2 154.09 L449.5 158.75 L450.8 163.22 L452.1 167.42 L453.4 171.3 L454.7 174.81 L456 177.94 L457.3 180.69 L458.6 183.08 L459.9 185.13 L461.2 186.87 L462.5 188.34 L463.8 189.57 L465.1 190.6 L466.4 191.45 L467.7 192.15 L469 192.73 L470.3 193.2 L471.6 193.59 L472.9 193.91 L474.2 194.17 L475.5 194.38 L476.8 194.55 L478.1 194.69 L479.4 194.81 L480.7 194.9 L482 194.97 L483.3 195.04 L484.6 195.09 L485.9 195.13 L487.2 195.16 L488.5 195.19" fill="none" stroke="#1e4a70" stroke-width="1.2" stroke-linejoin="round" />
<path d="M410.5 104.25 L411.8 104.27 L413.1 104.31 L414.4 104.34 L415.7 104.39 L417 104.45 L418.3 104.52 L419.6 104.6 L420.9 104.71 L422.2 104.83 L423.5 104.98 L424.8 105.17 L426.1 105.39 L427.4 105.66 L428.7 105.99 L430 106.38 L431.3 106.86 L432.6 107.43 L433.9 108.12 L435.2 108.95 L436.5 109.94 L437.8 111.11 L439.1 112.49 L440.4 114.12 L441.7 116.02 L443 118.22 L444.3 120.73 L445.6 123.59 L446.9 126.78 L448.2 130.31 L449.5 134.15 L450.8 138.25 L452.1 142.57 L453.4 147.02 L454.7 151.52 L456 155.98 L457.3 160.33 L458.6 164.48 L459.9 168.37 L461.2 171.97 L462.5 175.23 L463.8 178.15 L465.1 180.74 L466.4 183 L467.7 184.95 L469 186.63 L470.3 188.06 L471.6 189.27 L472.9 190.3 L474.2 191.15 L475.5 191.87 L476.8 192.46 L478.1 192.96 L479.4 193.37 L480.7 193.71 L482 193.99 L483.3 194.22 L484.6 194.41 L485.9 194.57 L487.2 194.7 L488.5 194.81" fill="none" stroke="#bf173d" stroke-width="1.2" stroke-linejoin="round" />
<line x1="410.5" y1="100.48" x2="410.5" y2="107.78" stroke="#ef9fb0" stroke-width="0.6" />
<line x1="409.3" y1="100.48" x2="411.7" y2="100.48" stroke="#ef9fb0" stroke-width="0.6" />
<line x1="409.3" y1="107.78" x2="411.7" y2="107.78" stroke="#ef9fb0" stroke-width="0.6" />
<path d="M410.5 102.34L412.29 104.13L410.5 105.92L408.71 104.13Z" fill="#9b1d3a"/>
<line x1="426.1" y1="98.66" x2="426.1" y2="109.6" stroke="#ef9fb0" stroke-width="0.6" />
<line x1="424.9" y1="98.66" x2="427.3" y2="98.66" stroke="#ef9fb0" stroke-width="0.6" />
<line x1="424.9" y1="109.6" x2="427.3" y2="109.6" stroke="#ef9fb0" stroke-width="0.6" />
<path d="M426.1 102.34L427.89 104.13L426.1 105.92L424.31 104.13Z" fill="#9b1d3a"/>
<line x1="441.7" y1="92.28" x2="441.7" y2="115.98" stroke="#ef9fb0" stroke-width="0.6" />
<line x1="440.5" y1="92.28" x2="442.9" y2="92.28" stroke="#ef9fb0" stroke-width="0.6" />
<line x1="440.5" y1="115.98" x2="442.9" y2="115.98" stroke="#ef9fb0" stroke-width="0.6" />
<path d="M441.7 102.34L443.49 104.13L441.7 105.92L439.91 104.13Z" fill="#9b1d3a"/>
<line x1="457.3" y1="100.48" x2="457.3" y2="107.78" stroke="#ef9fb0" stroke-width="0.6" />
<line x1="456.1" y1="100.48" x2="458.5" y2="100.48" stroke="#ef9fb0" stroke-width="0.6" />
<line x1="456.1" y1="107.78" x2="458.5" y2="107.78" stroke="#ef9fb0" stroke-width="0.6" />
<path d="M457.3 102.34L459.09 104.13L457.3 105.92L455.51 104.13Z" fill="#9b1d3a"/>
<line x1="472.9" y1="96.84" x2="472.9" y2="111.42" stroke="#ef9fb0" stroke-width="0.6" />
<line x1="471.7" y1="96.84" x2="474.1" y2="96.84" stroke="#ef9fb0" stroke-width="0.6" />
<line x1="471.7" y1="111.42" x2="474.1" y2="111.42" stroke="#ef9fb0" stroke-width="0.6" />
<path d="M472.9 102.34L474.69 104.13L472.9 105.92L471.11 104.13Z" fill="#9b1d3a"/>
<path d="M488.5 144.27L490.29 146.07L488.5 147.86L486.71 146.07Z" fill="#9b1d3a"/>
<path d="M409.13 116.63L411.87 116.63L410.5 119.43Z" fill="#224460"/>
<line x1="426.1" y1="105.95" x2="426.1" y2="127.83" stroke="#98b4cc" stroke-width="0.6" />
<line x1="424.9" y1="105.95" x2="427.3" y2="105.95" stroke="#98b4cc" stroke-width="0.6" />
<line x1="424.9" y1="127.83" x2="427.3" y2="127.83" stroke="#98b4cc" stroke-width="0.6" />
<path d="M424.73 115.71L427.46 115.71L426.1 118.52Z" fill="#224460"/>
<line x1="441.7" y1="105.95" x2="441.7" y2="115.07" stroke="#98b4cc" stroke-width="0.6" />
<line x1="440.5" y1="105.95" x2="442.9" y2="105.95" stroke="#98b4cc" stroke-width="0.6" />
<line x1="440.5" y1="115.07" x2="442.9" y2="115.07" stroke="#98b4cc" stroke-width="0.6" />
<path d="M440.33 109.33L443.06 109.33L441.7 112.14Z" fill="#224460"/>
<line x1="457.3" y1="100.48" x2="457.3" y2="116.89" stroke="#98b4cc" stroke-width="0.6" />
<line x1="456.1" y1="100.48" x2="458.5" y2="100.48" stroke="#98b4cc" stroke-width="0.6" />
<line x1="456.1" y1="116.89" x2="458.5" y2="116.89" stroke="#98b4cc" stroke-width="0.6" />
<path d="M455.93 107.51L458.66 107.51L457.3 110.32Z" fill="#224460"/>
<line x1="472.9" y1="110.51" x2="472.9" y2="117.81" stroke="#98b4cc" stroke-width="0.6" />
<line x1="471.7" y1="110.51" x2="474.1" y2="110.51" stroke="#98b4cc" stroke-width="0.6" />
<line x1="471.7" y1="117.81" x2="474.1" y2="117.81" stroke="#98b4cc" stroke-width="0.6" />
<path d="M471.53 112.98L474.26 112.98L472.9 115.79Z" fill="#224460"/>
<path d="M487.13 171.33L489.87 171.33L488.5 174.14Z" fill="#224460"/>
<circle cx="410.5" cy="104.13" r="1.4" fill="#9b1d3a"/>
<circle cx="426.1" cy="107.32" r="1.4" fill="#9b1d3a"/>
<circle cx="441.7" cy="116.89" r="1.4" fill="#9b1d3a"/>
<line x1="457.3" y1="161.57" x2="457.3" y2="170.68" stroke="#ef9fb0" stroke-width="0.6" />
<line x1="456.1" y1="161.57" x2="458.5" y2="161.57" stroke="#ef9fb0" stroke-width="0.6" />
<line x1="456.1" y1="170.68" x2="458.5" y2="170.68" stroke="#ef9fb0" stroke-width="0.6" />
<circle cx="457.3" cy="166.13" r="1.4" fill="#9b1d3a"/>
<circle cx="472.9" cy="193.02" r="1.4" fill="#9b1d3a"/>
<circle cx="488.5" cy="194.84" r="1.4" fill="#9b1d3a"/>
<circle cx="410.5" cy="118.72" r="1.4" fill="#224460"/>
<circle cx="426.1" cy="110.51" r="1.4" fill="#224460"/>
<line x1="441.7" y1="130.93" x2="441.7" y2="143.7" stroke="#98b4cc" stroke-width="0.6" />
<line x1="440.5" y1="130.93" x2="442.9" y2="130.93" stroke="#98b4cc" stroke-width="0.6" />
<line x1="440.5" y1="143.7" x2="442.9" y2="143.7" stroke="#98b4cc" stroke-width="0.6" />
<circle cx="441.7" cy="137.32" r="1.4" fill="#224460"/>
<line x1="457.3" y1="174.97" x2="457.3" y2="182.26" stroke="#98b4cc" stroke-width="0.6" />
<line x1="456.1" y1="174.97" x2="458.5" y2="174.97" stroke="#98b4cc" stroke-width="0.6" />
<line x1="456.1" y1="182.26" x2="458.5" y2="182.26" stroke="#98b4cc" stroke-width="0.6" />
<circle cx="457.3" cy="178.62" r="1.4" fill="#224460"/>
<circle cx="472.9" cy="183.45" r="1.4" fill="#224460"/>
<circle cx="488.5" cy="193.02" r="1.4" fill="#224460"/>
<text class="t" x="94.7" y="254" font-size="9.2" text-anchor="middle" font-weight="normal" fill="#1a1a1a" >CD110-PBD</text>
<line x1="69.55" y1="255.5" x2="119.85" y2="255.5" stroke="#333" stroke-width="0.7" />
<text class="s" x="122.5" y="279.5" font-size="7" text-anchor="middle" font-weight="normal" fill="#1a1a1a" >IC50 Mean ± SEM</text>
<line x1="94" y1="280.7" x2="151" y2="280.7" stroke="#333" stroke-width="0.6" />
<line x1="7" y1="288.4" x2="20.4" y2="288.4" stroke="#782436" stroke-width="1.1" />
<circle cx="13.7" cy="288.4" r="2.16" fill="#bf173d"/>
<text class="s" x="23.8" y="290.9" font-size="7" text-anchor="start" font-weight="normal" fill="#1a1a1a" >CD110-PBD AMM2</text>
<line x1="7" y1="299.3" x2="20.4" y2="299.3" stroke="#784c2d" stroke-width="1.1" />
<circle cx="13.7" cy="299.3" r="2.16" fill="#c0692a"/>
<text class="s" x="23.8" y="301.8" font-size="7" text-anchor="start" font-weight="normal" fill="#1a1a1a" >Rat IgG1-PBD</text>
<text class="s" x="122.8" y="290.9" font-size="7" text-anchor="middle" font-weight="normal" fill="#1a1a1a" >5.04 ± 1.2 nM</text>
<text class="s" x="122.8" y="301.8" font-size="7" text-anchor="middle" font-weight="normal" fill="#1a1a1a" >23.5 ± 6.4 nM</text>
<line x1="40.2" y1="322.1" x2="40.2" y2="434.9" stroke="#111" stroke-width="1.3" />
<line x1="37" y1="434.3" x2="152.8" y2="434.3" stroke="#111" stroke-width="1.3" />
<line x1="37" y1="434.3" x2="40.2" y2="434.3" stroke="#111" stroke-width="1.1" />
<text class="t" x="33.2" y="436.8" font-size="7.1" text-anchor="end" font-weight="normal" fill="#1a1a1a" >0</text>
<line x1="37" y1="425.18" x2="40.2" y2="425.18" stroke="#111" stroke-width="1.1" />
<text class="t" x="33.2" y="427.68" font-size="7.1" text-anchor="end" font-weight="normal" fill="#1a1a1a" >10</text>
<line x1="37" y1="416.07" x2="40.2" y2="416.07" stroke="#111" stroke-width="1.1" />
<text class="t" x="33.2" y="418.57" font-size="7.1" text-anchor="end" font-weight="normal" fill="#1a1a1a" >20</text>
<line x1="37" y1="406.95" x2="40.2" y2="406.95" stroke="#111" stroke-width="1.1" />
<text class="t" x="33.2" y="409.45" font-size="7.1" text-anchor="end" font-weight="normal" fill="#1a1a1a" >30</text>
<line x1="37" y1="397.83" x2="40.2" y2="397.83" stroke="#111" stroke-width="1.1" />
<text class="t" x="33.2" y="400.33" font-size="7.1" text-anchor="end" font-weight="normal" fill="#1a1a1a" >40</text>
<line x1="37" y1="388.72" x2="40.2" y2="388.72" stroke="#111" stroke-width="1.1" />
<text class="t" x="33.2" y="391.22" font-size="7.1" text-anchor="end" font-weight="normal" fill="#1a1a1a" >50</text>
<line x1="37" y1="379.6" x2="40.2" y2="379.6" stroke="#111" stroke-width="1.1" />
<text class="t" x="33.2" y="382.1" font-size="7.1" text-anchor="end" font-weight="normal" fill="#1a1a1a" >60</text>
<line x1="37" y1="370.48" x2="40.2" y2="370.48" stroke="#111" stroke-width="1.1" />
<text class="t" x="33.2" y="372.98" font-size="7.1" text-anchor="end" font-weight="normal" fill="#1a1a1a" >70</text>
<line x1="37" y1="361.36" x2="40.2" y2="361.36" stroke="#111" stroke-width="1.1" />
<text class="t" x="33.2" y="363.86" font-size="7.1" text-anchor="end" font-weight="normal" fill="#1a1a1a" >80</text>
<line x1="37" y1="352.25" x2="40.2" y2="352.25" stroke="#111" stroke-width="1.1" />
<text class="t" x="33.2" y="354.75" font-size="7.1" text-anchor="end" font-weight="normal" fill="#1a1a1a" >90</text>
<line x1="37" y1="343.13" x2="40.2" y2="343.13" stroke="#111" stroke-width="1.1" />
<text class="t" x="33.2" y="345.63" font-size="7.1" text-anchor="end" font-weight="normal" fill="#1a1a1a" >100</text>
<line x1="37" y1="334.01" x2="40.2" y2="334.01" stroke="#111" stroke-width="1.1" />
<text class="t" x="33.2" y="336.51" font-size="7.1" text-anchor="end" font-weight="normal" fill="#1a1a1a" >110</text>
<line x1="37" y1="324.9" x2="40.2" y2="324.9" stroke="#111" stroke-width="1.1" />
<text class="t" x="33.2" y="327.4" font-size="7.1" text-anchor="end" font-weight="normal" fill="#1a1a1a" >120</text>
<line x1="40.2" y1="434.3" x2="40.2" y2="437.2" stroke="#111" stroke-width="1.1" />
<text transform="translate(42.7,442.2) rotate(-90)" font-size="7" text-anchor="end" fill="#1a1a1a" class="t">10<tspan font-size="4.8" dy="-2.7">-5</tspan></text>
<line x1="55.8" y1="434.3" x2="55.8" y2="437.2" stroke="#111" stroke-width="1.1" />
<text transform="translate(58.3,442.2) rotate(-90)" font-size="7" text-anchor="end" fill="#1a1a1a" class="t">10<tspan font-size="4.8" dy="-2.7">-4</tspan></text>
<line x1="71.4" y1="434.3" x2="71.4" y2="437.2" stroke="#111" stroke-width="1.1" />
<text transform="translate(73.9,442.2) rotate(-90)" font-size="7" text-anchor="end" fill="#1a1a1a" class="t">10<tspan font-size="4.8" dy="-2.7">-3</tspan></text>
<line x1="87" y1="434.3" x2="87" y2="437.2" stroke="#111" stroke-width="1.1" />
<text transform="translate(89.5,442.2) rotate(-90)" font-size="7" text-anchor="end" fill="#1a1a1a" class="t">10<tspan font-size="4.8" dy="-2.7">-2</tspan></text>
<line x1="102.6" y1="434.3" x2="102.6" y2="437.2" stroke="#111" stroke-width="1.1" />
<text transform="translate(105.1,442.2) rotate(-90)" font-size="7" text-anchor="end" fill="#1a1a1a" class="t">10<tspan font-size="4.8" dy="-2.7">-1</tspan></text>
<line x1="118.2" y1="434.3" x2="118.2" y2="437.2" stroke="#111" stroke-width="1.1" />
<text transform="translate(120.7,442.2) rotate(-90)" font-size="7" text-anchor="end" fill="#1a1a1a" class="t">10<tspan font-size="4.8" dy="-2.7">0</tspan></text>
<line x1="133.8" y1="434.3" x2="133.8" y2="437.2" stroke="#111" stroke-width="1.1" />
<text transform="translate(136.3,442.2) rotate(-90)" font-size="7" text-anchor="end" fill="#1a1a1a" class="t">10<tspan font-size="4.8" dy="-2.7">1</tspan></text>
<line x1="149.4" y1="434.3" x2="149.4" y2="437.2" stroke="#111" stroke-width="1.1" />
<text transform="translate(151.9,442.2) rotate(-90)" font-size="7" text-anchor="end" fill="#1a1a1a" class="t">10<tspan font-size="4.8" dy="-2.7">2</tspan></text>
<text transform="translate(15.4,379.3) rotate(-90) scale(0.68,1)" font-size="9.1" font-weight="bold" text-anchor="middle" fill="#1a1a1a" class="s">% of Maximum</text>
<text transform="translate(94.6,466.3) scale(0.78,1)" font-size="8.4" font-weight="normal" text-anchor="middle" fill="#1a1a1a" class="m" word-spacing="1.9">[ADC] (nM)</text>
<path d="M55.8 343.13 L57.1 343.13 L58.4 343.13 L59.7 343.13 L61 343.13 L62.3 343.13 L63.6 343.13 L64.9 343.13 L66.2 343.13 L67.5 343.13 L68.8 343.13 L70.1 343.13 L71.4 343.13 L72.7 343.13 L74 343.14 L75.3 343.14 L76.6 343.14 L77.9 343.14 L79.2 343.14 L80.5 343.14 L81.8 343.15 L83.1 343.15 L84.4 343.15 L85.7 343.16 L87 343.17 L88.3 343.17 L89.6 343.18 L90.9 343.19 L92.2 343.21 L93.5 343.22 L94.8 343.24 L96.1 343.27 L97.4 343.3 L98.7 343.33 L100 343.38 L101.3 343.43 L102.6 343.49 L103.9 343.57 L105.2 343.66 L106.5 343.77 L107.8 343.91 L109.1 344.07 L110.4 344.26 L111.7 344.5 L113 344.78 L114.3 345.13 L115.6 345.54 L116.9 346.03 L118.2 346.62 L119.5 347.32 L120.8 348.16 L122.1 349.16 L123.4 350.33 L124.7 351.71 L126 353.32 L127.3 355.2 L128.6 357.35 L129.9 359.81 L131.2 362.58 L132.5 365.68 L133.8 369.09" fill="none" stroke="#c0692a" stroke-width="1.1" stroke-linejoin="round" />
<path d="M55.8 343.13 L57.1 343.13 L58.4 343.13 L59.7 343.13 L61 343.13 L62.3 343.13 L63.6 343.14 L64.9 343.14 L66.2 343.14 L67.5 343.14 L68.8 343.14 L70.1 343.15 L71.4 343.15 L72.7 343.15 L74 343.16 L75.3 343.17 L76.6 343.18 L77.9 343.19 L79.2 343.2 L80.5 343.22 L81.8 343.24 L83.1 343.26 L84.4 343.29 L85.7 343.33 L87 343.38 L88.3 343.44 L89.6 343.51 L90.9 343.6 L92.2 343.71 L93.5 343.84 L94.8 344.01 L96.1 344.21 L97.4 344.46 L98.7 344.77 L100 345.14 L101.3 345.6 L102.6 346.16 L103.9 346.85 L105.2 347.68 L106.5 348.68 L107.8 349.89 L109.1 351.34 L110.4 353.06 L111.7 355.08 L113 357.45 L114.3 360.19 L115.6 363.31 L116.9 366.82 L118.2 370.7 L119.5 374.92 L120.8 379.42 L122.1 384.11 L123.4 388.91 L124.7 393.7 L126 398.38 L127.3 402.86 L128.6 407.05 L129.9 410.91 L131.2 414.39 L132.5 417.48 L133.8 420.18" fill="none" stroke="#bf173d" stroke-width="1.1" stroke-linejoin="round" />
<line x1="55.8" y1="331.28" x2="55.8" y2="354.07" stroke="#e8b888" stroke-width="0.6" />
<line x1="54.6" y1="331.28" x2="57" y2="331.28" stroke="#e8b888" stroke-width="0.6" />
<line x1="54.6" y1="354.07" x2="57" y2="354.07" stroke="#e8b888" stroke-width="0.6" />
<circle cx="55.8" cy="342.67" r="1.4" fill="#9c5b2c"/>
<line x1="71.4" y1="340.85" x2="71.4" y2="360.91" stroke="#e8b888" stroke-width="0.6" />
<line x1="70.2" y1="340.85" x2="72.6" y2="340.85" stroke="#e8b888" stroke-width="0.6" />
<line x1="70.2" y1="360.91" x2="72.6" y2="360.91" stroke="#e8b888" stroke-width="0.6" />
<circle cx="71.4" cy="350.88" r="1.4" fill="#9c5b2c"/>
<line x1="87" y1="335.84" x2="87" y2="357.72" stroke="#e8b888" stroke-width="0.6" />
<line x1="85.8" y1="335.84" x2="88.2" y2="335.84" stroke="#e8b888" stroke-width="0.6" />
<line x1="85.8" y1="357.72" x2="88.2" y2="357.72" stroke="#e8b888" stroke-width="0.6" />
<circle cx="87" cy="346.78" r="1.4" fill="#9c5b2c"/>
<circle cx="102.6" cy="354.07" r="1.4" fill="#9c5b2c"/>
<line x1="118.2" y1="338.57" x2="118.2" y2="356.81" stroke="#e8b888" stroke-width="0.6" />
<line x1="117" y1="338.57" x2="119.4" y2="338.57" stroke="#e8b888" stroke-width="0.6" />
<line x1="117" y1="356.81" x2="119.4" y2="356.81" stroke="#e8b888" stroke-width="0.6" />
<circle cx="118.2" cy="347.69" r="1.4" fill="#9c5b2c"/>
<line x1="133.8" y1="365.92" x2="133.8" y2="375.04" stroke="#e8b888" stroke-width="0.6" />
<line x1="132.6" y1="365.92" x2="135" y2="365.92" stroke="#e8b888" stroke-width="0.6" />
<line x1="132.6" y1="375.04" x2="135" y2="375.04" stroke="#e8b888" stroke-width="0.6" />
<circle cx="133.8" cy="370.48" r="1.4" fill="#9c5b2c"/>
<circle cx="55.8" cy="349.06" r="1.4" fill="#8a182d"/>
<circle cx="71.4" cy="343.13" r="1.4" fill="#8a182d"/>
<circle cx="87" cy="348.6" r="1.4" fill="#8a182d"/>
<line x1="102.6" y1="351.34" x2="102.6" y2="364.1" stroke="#ec9aaa" stroke-width="0.6" />
<line x1="101.4" y1="351.34" x2="103.8" y2="351.34" stroke="#ec9aaa" stroke-width="0.6" />
<line x1="101.4" y1="364.1" x2="103.8" y2="364.1" stroke="#ec9aaa" stroke-width="0.6" />
<circle cx="102.6" cy="357.72" r="1.4" fill="#8a182d"/>
<circle cx="118.2" cy="370.94" r="1.4" fill="#8a182d"/>
<circle cx="133.8" cy="430.02" r="1.4" fill="#8a182d"/>
<text class="t" x="269.8" y="254.2" font-size="9.2" text-anchor="middle" font-weight="normal" fill="#1a1a1a" >CD117-PBD</text>
<line x1="244.65" y1="255.7" x2="294.95" y2="255.7" stroke="#333" stroke-width="0.7" />
<text class="s" x="293" y="274.5" font-size="7" text-anchor="middle" font-weight="normal" fill="#1a1a1a" >IC50 Mean ± SEM</text>
<line x1="264.5" y1="275.7" x2="321.5" y2="275.7" stroke="#333" stroke-width="0.6" />
<line x1="180" y1="282.5" x2="192.6" y2="282.5" stroke="#782436" stroke-width="1.1" />
<rect x="184.24" y="280.34" width="4.32" height="4.32" fill="#bf173d"/>
<text class="s" x="196.4" y="285" font-size="7" text-anchor="start" font-weight="normal" fill="#1a1a1a" >CD117-PBD ACK2</text>
<line x1="180" y1="293.3" x2="192.6" y2="293.3" stroke="#273d50" stroke-width="1.1" />
<rect x="184.24" y="291.14" width="4.32" height="4.32" fill="#1e4a70"/>
<text class="s" x="196.4" y="295.8" font-size="7" text-anchor="start" font-weight="normal" fill="#1a1a1a" >CD117-PBD 2B8</text>
<line x1="180" y1="304.4" x2="192.6" y2="304.4" stroke="#7c5b37" stroke-width="1.1" />
<circle cx="186.4" cy="304.4" r="2.16" fill="#c0692a"/>
<text class="s" x="196.4" y="306.9" font-size="7" text-anchor="start" font-weight="normal" fill="#1a1a1a" >Rat IgG2b-PBD</text>
<text class="s" x="293" y="285" font-size="7" text-anchor="middle" font-weight="normal" fill="#1a1a1a" >8.7 ± 0.6 pM</text>
<text class="s" x="293" y="295.8" font-size="7" text-anchor="middle" font-weight="normal" fill="#1a1a1a" >1.45 ± 0.05 pM</text>
<text class="s" x="293" y="306.9" font-size="7" text-anchor="middle" font-weight="normal" fill="#1a1a1a" >11.5 ± 1.24 nM</text>
<line x1="215.2" y1="322.1" x2="215.2" y2="434.9" stroke="#111" stroke-width="1.3" />
<line x1="212" y1="434.3" x2="327.8" y2="434.3" stroke="#111" stroke-width="1.3" />
<line x1="212" y1="434.3" x2="215.2" y2="434.3" stroke="#111" stroke-width="1.1" />
<text class="t" x="208.2" y="436.8" font-size="7.1" text-anchor="end" font-weight="normal" fill="#1a1a1a" >0</text>
<line x1="212" y1="425.18" x2="215.2" y2="425.18" stroke="#111" stroke-width="1.1" />
<text class="t" x="208.2" y="427.68" font-size="7.1" text-anchor="end" font-weight="normal" fill="#1a1a1a" >10</text>
<line x1="212" y1="416.07" x2="215.2" y2="416.07" stroke="#111" stroke-width="1.1" />
<text class="t" x="208.2" y="418.57" font-size="7.1" text-anchor="end" font-weight="normal" fill="#1a1a1a" >20</text>
<line x1="212" y1="406.95" x2="215.2" y2="406.95" stroke="#111" stroke-width="1.1" />
<text class="t" x="208.2" y="409.45" font-size="7.1" text-anchor="end" font-weight="normal" fill="#1a1a1a" >30</text>
<line x1="212" y1="397.83" x2="215.2" y2="397.83" stroke="#111" stroke-width="1.1" />
<text class="t" x="208.2" y="400.33" font-size="7.1" text-anchor="end" font-weight="normal" fill="#1a1a1a" >40</text>
<line x1="212" y1="388.72" x2="215.2" y2="388.72" stroke="#111" stroke-width="1.1" />
<text class="t" x="208.2" y="391.22" font-size="7.1" text-anchor="end" font-weight="normal" fill="#1a1a1a" >50</text>
<line x1="212" y1="379.6" x2="215.2" y2="379.6" stroke="#111" stroke-width="1.1" />
<text class="t" x="208.2" y="382.1" font-size="7.1" text-anchor="end" font-weight="normal" fill="#1a1a1a" >60</text>
<line x1="212" y1="370.48" x2="215.2" y2="370.48" stroke="#111" stroke-width="1.1" />
<text class="t" x="208.2" y="372.98" font-size="7.1" text-anchor="end" font-weight="normal" fill="#1a1a1a" >70</text>
<line x1="212" y1="361.36" x2="215.2" y2="361.36" stroke="#111" stroke-width="1.1" />
<text class="t" x="208.2" y="363.86" font-size="7.1" text-anchor="end" font-weight="normal" fill="#1a1a1a" >80</text>
<line x1="212" y1="352.25" x2="215.2" y2="352.25" stroke="#111" stroke-width="1.1" />
<text class="t" x="208.2" y="354.75" font-size="7.1" text-anchor="end" font-weight="normal" fill="#1a1a1a" >90</text>
<line x1="212" y1="343.13" x2="215.2" y2="343.13" stroke="#111" stroke-width="1.1" />
<text class="t" x="208.2" y="345.63" font-size="7.1" text-anchor="end" font-weight="normal" fill="#1a1a1a" >100</text>
<line x1="212" y1="334.01" x2="215.2" y2="334.01" stroke="#111" stroke-width="1.1" />
<text class="t" x="208.2" y="336.51" font-size="7.1" text-anchor="end" font-weight="normal" fill="#1a1a1a" >110</text>
<line x1="212" y1="324.9" x2="215.2" y2="324.9" stroke="#111" stroke-width="1.1" />
<text class="t" x="208.2" y="327.4" font-size="7.1" text-anchor="end" font-weight="normal" fill="#1a1a1a" >120</text>
<line x1="215.2" y1="434.3" x2="215.2" y2="437.2" stroke="#111" stroke-width="1.1" />
<text transform="translate(217.7,442.2) rotate(-90)" font-size="7" text-anchor="end" fill="#1a1a1a" class="t">10<tspan font-size="4.8" dy="-2.7">-5</tspan></text>
<line x1="230.8" y1="434.3" x2="230.8" y2="437.2" stroke="#111" stroke-width="1.1" />
<text transform="translate(233.3,442.2) rotate(-90)" font-size="7" text-anchor="end" fill="#1a1a1a" class="t">10<tspan font-size="4.8" dy="-2.7">-4</tspan></text>
<line x1="246.4" y1="434.3" x2="246.4" y2="437.2" stroke="#111" stroke-width="1.1" />
<text transform="translate(248.9,442.2) rotate(-90)" font-size="7" text-anchor="end" fill="#1a1a1a" class="t">10<tspan font-size="4.8" dy="-2.7">-3</tspan></text>
<line x1="262" y1="434.3" x2="262" y2="437.2" stroke="#111" stroke-width="1.1" />
<text transform="translate(264.5,442.2) rotate(-90)" font-size="7" text-anchor="end" fill="#1a1a1a" class="t">10<tspan font-size="4.8" dy="-2.7">-2</tspan></text>
<line x1="277.6" y1="434.3" x2="277.6" y2="437.2" stroke="#111" stroke-width="1.1" />
<text transform="translate(280.1,442.2) rotate(-90)" font-size="7" text-anchor="end" fill="#1a1a1a" class="t">10<tspan font-size="4.8" dy="-2.7">-1</tspan></text>
<line x1="293.2" y1="434.3" x2="293.2" y2="437.2" stroke="#111" stroke-width="1.1" />
<text transform="translate(295.7,442.2) rotate(-90)" font-size="7" text-anchor="end" fill="#1a1a1a" class="t">10<tspan font-size="4.8" dy="-2.7">0</tspan></text>
<line x1="308.8" y1="434.3" x2="308.8" y2="437.2" stroke="#111" stroke-width="1.1" />
<text transform="translate(311.3,442.2) rotate(-90)" font-size="7" text-anchor="end" fill="#1a1a1a" class="t">10<tspan font-size="4.8" dy="-2.7">1</tspan></text>
<line x1="324.4" y1="434.3" x2="324.4" y2="437.2" stroke="#111" stroke-width="1.1" />
<text transform="translate(326.9,442.2) rotate(-90)" font-size="7" text-anchor="end" fill="#1a1a1a" class="t">10<tspan font-size="4.8" dy="-2.7">2</tspan></text>
<text transform="translate(190.4,379.3) rotate(-90) scale(0.68,1)" font-size="9.1" font-weight="bold" text-anchor="middle" fill="#1a1a1a" class="s">% of Maximum</text>
<text transform="translate(269.6,466.3) scale(0.78,1)" font-size="8.4" font-weight="normal" text-anchor="middle" fill="#1a1a1a" class="m" word-spacing="1.9">[ADC] (nM)</text>
<path d="M230.8 343.13 L232.1 343.13 L233.4 343.13 L234.7 343.13 L236 343.13 L237.3 343.13 L238.6 343.13 L239.9 343.13 L241.2 343.13 L242.5 343.13 L243.8 343.13 L245.1 343.13 L246.4 343.13 L247.7 343.13 L249 343.13 L250.3 343.14 L251.6 343.14 L252.9 343.14 L254.2 343.14 L255.5 343.14 L256.8 343.15 L258.1 343.15 L259.4 343.16 L260.7 343.16 L262 343.17 L263.3 343.18 L264.6 343.19 L265.9 343.21 L267.2 343.22 L268.5 343.25 L269.8 343.27 L271.1 343.31 L272.4 343.35 L273.7 343.4 L275 343.46 L276.3 343.54 L277.6 343.63 L278.9 343.75 L280.2 343.9 L281.5 344.07 L282.8 344.29 L284.1 344.56 L285.4 344.89 L286.7 345.3 L288 345.79 L289.3 346.4 L290.6 347.13 L291.9 348.02 L293.2 349.09 L294.5 350.38 L295.8 351.92 L297.1 353.75 L298.4 355.89 L299.7 358.39 L301 361.27 L302.3 364.53 L303.6 368.17 L304.9 372.18 L306.2 376.51 L307.5 381.09 L308.8 385.83" fill="none" stroke="#c9863e" stroke-width="1.1" stroke-linejoin="round" />
<path d="M230.8 347.33 L232.1 348.23 L233.4 349.32 L234.7 350.61 L236 352.15 L237.3 353.96 L238.6 356.08 L239.9 358.53 L241.2 361.34 L242.5 364.52 L243.8 368.06 L245.1 371.94 L246.4 376.13 L247.7 380.57 L249 385.17 L250.3 389.84 L251.6 394.49 L252.9 399.02 L254.2 403.34 L255.5 407.39 L256.8 411.12 L258.1 414.48 L259.4 417.48 L260.7 420.12 L262 422.41 L263.3 424.38 L264.6 426.05 L265.9 427.47 L267.2 428.66 L268.5 429.65 L269.8 430.48 L271.1 431.16 L272.4 431.73 L273.7 432.19 L275 432.58 L276.3 432.89 L277.6 433.15 L278.9 433.36 L280.2 433.53 L281.5 433.68 L282.8 433.79 L284.1 433.88 L285.4 433.96 L286.7 434.02 L288 434.08 L289.3 434.12 L290.6 434.15 L291.9 434.18 L293.2 434.2 L294.5 434.22 L295.8 434.23 L297.1 434.25 L298.4 434.26 L299.7 434.26 L301 434.27 L302.3 434.28 L303.6 434.28 L304.9 434.28 L306.2 434.29 L307.5 434.29 L308.8 434.29" fill="none" stroke="#1e4a70" stroke-width="1.1" stroke-linejoin="round" />
<path d="M230.8 343.81 L232.1 344.05 L233.4 344.34 L234.7 344.68 L236 345.09 L237.3 345.59 L238.6 346.18 L239.9 346.89 L241.2 347.73 L242.5 348.73 L243.8 349.91 L245.1 351.3 L246.4 352.92 L247.7 354.8 L249 356.96 L250.3 359.43 L251.6 362.22 L252.9 365.34 L254.2 368.76 L255.5 372.49 L256.8 376.47 L258.1 380.65 L259.4 384.98 L260.7 389.37 L262 393.74 L263.3 398.02 L264.6 402.13 L265.9 406.01 L267.2 409.62 L268.5 412.92 L269.8 415.91 L271.1 418.57 L272.4 420.91 L273.7 422.96 L275 424.73 L276.3 426.26 L277.6 427.56 L278.9 428.66 L280.2 429.6 L281.5 430.38 L282.8 431.04 L284.1 431.59 L285.4 432.05 L286.7 432.44 L288 432.76 L289.3 433.02 L290.6 433.24 L291.9 433.43 L293.2 433.58 L294.5 433.7 L295.8 433.81 L297.1 433.89 L298.4 433.96 L299.7 434.02 L301 434.07 L302.3 434.11 L303.6 434.14 L304.9 434.17 L306.2 434.19 L307.5 434.21 L308.8 434.23" fill="none" stroke="#bf173d" stroke-width="1.1" stroke-linejoin="round" />
<line x1="230.8" y1="331.28" x2="230.8" y2="355.89" stroke="#ec9aaa" stroke-width="0.6" />
<line x1="229.6" y1="331.28" x2="232" y2="331.28" stroke="#ec9aaa" stroke-width="0.6" />
<line x1="229.6" y1="355.89" x2="232" y2="355.89" stroke="#ec9aaa" stroke-width="0.6" />
<line x1="246.4" y1="336.75" x2="246.4" y2="368.66" stroke="#c8b4b4" stroke-width="0.6" />
<line x1="245.2" y1="336.75" x2="247.6" y2="336.75" stroke="#c8b4b4" stroke-width="0.6" />
<line x1="245.2" y1="368.66" x2="247.6" y2="368.66" stroke="#c8b4b4" stroke-width="0.6" />
<circle cx="230.8" cy="355.89" r="1.4" fill="#9c5b2c"/>
<circle cx="246.4" cy="353.16" r="1.4" fill="#9c5b2c"/>
<line x1="262" y1="333.1" x2="262" y2="353.16" stroke="#e8b888" stroke-width="0.6" />
<line x1="260.8" y1="333.1" x2="263.2" y2="333.1" stroke="#e8b888" stroke-width="0.6" />
<line x1="260.8" y1="353.16" x2="263.2" y2="353.16" stroke="#e8b888" stroke-width="0.6" />
<circle cx="262" cy="343.13" r="1.4" fill="#9c5b2c"/>
<line x1="277.6" y1="337.2" x2="277.6" y2="358.17" stroke="#e8b888" stroke-width="0.6" />
<line x1="276.4" y1="337.2" x2="278.8" y2="337.2" stroke="#e8b888" stroke-width="0.6" />
<line x1="276.4" y1="358.17" x2="278.8" y2="358.17" stroke="#e8b888" stroke-width="0.6" />
<circle cx="277.6" cy="347.69" r="1.4" fill="#9c5b2c"/>
<line x1="293.2" y1="335.84" x2="293.2" y2="350.42" stroke="#e8b888" stroke-width="0.6" />
<line x1="292" y1="335.84" x2="294.4" y2="335.84" stroke="#e8b888" stroke-width="0.6" />
<line x1="292" y1="350.42" x2="294.4" y2="350.42" stroke="#e8b888" stroke-width="0.6" />
<circle cx="293.2" cy="343.13" r="1.4" fill="#9c5b2c"/>
<circle cx="308.8" cy="384.79" r="1.4" fill="#9c5b2c"/>
<rect x="229.4" y="341.73" width="2.81" height="2.81" fill="#9b1d3a"/>
<rect x="245" y="357.41" width="2.81" height="2.81" fill="#9b1d3a"/>
<rect x="260.6" y="389.5" width="2.81" height="2.81" fill="#9b1d3a"/>
<rect x="276.2" y="429.25" width="2.81" height="2.81" fill="#9b1d3a"/>
<rect x="291.8" y="432.44" width="2.81" height="2.81" fill="#9b1d3a"/>
<rect x="307.4" y="432.44" width="2.81" height="2.81" fill="#9b1d3a"/>
<rect x="245" y="373.64" width="2.81" height="2.81" fill="#224460"/>
<rect x="260.6" y="432.44" width="2.81" height="2.81" fill="#224460"/>
<rect x="276.2" y="432.44" width="2.81" height="2.81" fill="#224460"/>
<text class="t" x="449.5" y="254" font-size="9.2" text-anchor="middle" font-weight="normal" fill="#1a1a1a" >CD133-PBD</text>
<line x1="424.05" y1="255.5" x2="474.95" y2="255.5" stroke="#333" stroke-width="0.7" />
<text class="s" x="484.7" y="268.1" font-size="7" text-anchor="middle" font-weight="normal" fill="#1a1a1a" >IC50 Mean ± SEM</text>
<line x1="456.2" y1="269.3" x2="513.2" y2="269.3" stroke="#333" stroke-width="0.6" />
<line x1="357.1" y1="277.5" x2="370.6" y2="277.5" stroke="#782436" stroke-width="1.1" />
<path d="M361.9 275.69L366.1 275.69L364 280.01Z" fill="#bf173d"/>
<text class="s" x="373.9" y="280" font-size="7" text-anchor="start" font-weight="normal" fill="#1a1a1a" >CD133-PBD 315-2C11</text>
<line x1="357.1" y1="288.4" x2="370.6" y2="288.4" stroke="#273d50" stroke-width="1.1" />
<rect x="361.84" y="286.24" width="4.32" height="4.32" fill="#1e4a70"/>
<text class="s" x="373.9" y="290.9" font-size="7" text-anchor="start" font-weight="normal" fill="#1a1a1a" >CD133-PBD 13A4</text>
<line x1="357.1" y1="299.6" x2="370.6" y2="299.6" stroke="#e0607a" stroke-width="0.8" stroke-dasharray="0.8,1.2"/>
<path d="M361.9 301.41L366.1 301.41L364 297.09Z" fill="#bf173d"/>
<text class="s" x="373.9" y="302.1" font-size="7" text-anchor="start" font-weight="normal" fill="#1a1a1a" >Rat IgG2a-PBD</text>
<line x1="357.1" y1="310.4" x2="370.6" y2="310.4" stroke="#6f8fb0" stroke-width="0.8" stroke-dasharray="0.8,1.2"/>
<path d="M361.9 308.59L366.1 308.59L364 312.91Z" fill="#1e4a70"/>
<text class="s" x="373.9" y="312.9" font-size="7" text-anchor="start" font-weight="normal" fill="#1a1a1a" >Rat IgG1-PBD</text>
<text class="s" x="485.2" y="280" font-size="7" text-anchor="middle" font-weight="normal" fill="#1a1a1a" >20.2± 5.0 nM</text>
<text class="s" x="485.2" y="290.9" font-size="7" text-anchor="middle" font-weight="normal" fill="#1a1a1a" >3.71 ± 2.0 nM</text>
<text class="s" x="485.2" y="302.1" font-size="7" text-anchor="middle" font-weight="normal" fill="#1a1a1a" >5.58 ± 3.5 nM</text>
<text class="s" x="485.2" y="312.9" font-size="7" text-anchor="middle" font-weight="normal" fill="#1a1a1a" >23.5 ± 6.4 nM</text>
<line x1="394.9" y1="322.1" x2="394.9" y2="434.9" stroke="#111" stroke-width="1.3" />
<line x1="391.7" y1="434.3" x2="507.5" y2="434.3" stroke="#111" stroke-width="1.3" />
<line x1="391.7" y1="434.3" x2="394.9" y2="434.3" stroke="#111" stroke-width="1.1" />
<text class="t" x="387.9" y="436.8" font-size="7.1" text-anchor="end" font-weight="normal" fill="#1a1a1a" >0</text>
<line x1="391.7" y1="425.18" x2="394.9" y2="425.18" stroke="#111" stroke-width="1.1" />
<text class="t" x="387.9" y="427.68" font-size="7.1" text-anchor="end" font-weight="normal" fill="#1a1a1a" >10</text>
<line x1="391.7" y1="416.07" x2="394.9" y2="416.07" stroke="#111" stroke-width="1.1" />
<text class="t" x="387.9" y="418.57" font-size="7.1" text-anchor="end" font-weight="normal" fill="#1a1a1a" >20</text>
<line x1="391.7" y1="406.95" x2="394.9" y2="406.95" stroke="#111" stroke-width="1.1" />
<text class="t" x="387.9" y="409.45" font-size="7.1" text-anchor="end" font-weight="normal" fill="#1a1a1a" >30</text>
<line x1="391.7" y1="397.83" x2="394.9" y2="397.83" stroke="#111" stroke-width="1.1" />
<text class="t" x="387.9" y="400.33" font-size="7.1" text-anchor="end" font-weight="normal" fill="#1a1a1a" >40</text>
<line x1="391.7" y1="388.72" x2="394.9" y2="388.72" stroke="#111" stroke-width="1.1" />
<text class="t" x="387.9" y="391.22" font-size="7.1" text-anchor="end" font-weight="normal" fill="#1a1a1a" >50</text>
<line x1="391.7" y1="379.6" x2="394.9" y2="379.6" stroke="#111" stroke-width="1.1" />
<text class="t" x="387.9" y="382.1" font-size="7.1" text-anchor="end" font-weight="normal" fill="#1a1a1a" >60</text>
<line x1="391.7" y1="370.48" x2="394.9" y2="370.48" stroke="#111" stroke-width="1.1" />
<text class="t" x="387.9" y="372.98" font-size="7.1" text-anchor="end" font-weight="normal" fill="#1a1a1a" >70</text>
<line x1="391.7" y1="361.36" x2="394.9" y2="361.36" stroke="#111" stroke-width="1.1" />
<text class="t" x="387.9" y="363.86" font-size="7.1" text-anchor="end" font-weight="normal" fill="#1a1a1a" >80</text>
<line x1="391.7" y1="352.25" x2="394.9" y2="352.25" stroke="#111" stroke-width="1.1" />
<text class="t" x="387.9" y="354.75" font-size="7.1" text-anchor="end" font-weight="normal" fill="#1a1a1a" >90</text>
<line x1="391.7" y1="343.13" x2="394.9" y2="343.13" stroke="#111" stroke-width="1.1" />
<text class="t" x="387.9" y="345.63" font-size="7.1" text-anchor="end" font-weight="normal" fill="#1a1a1a" >100</text>
<line x1="391.7" y1="334.01" x2="394.9" y2="334.01" stroke="#111" stroke-width="1.1" />
<text class="t" x="387.9" y="336.51" font-size="7.1" text-anchor="end" font-weight="normal" fill="#1a1a1a" >110</text>
<line x1="391.7" y1="324.9" x2="394.9" y2="324.9" stroke="#111" stroke-width="1.1" />
<text class="t" x="387.9" y="327.4" font-size="7.1" text-anchor="end" font-weight="normal" fill="#1a1a1a" >120</text>
<line x1="394.9" y1="434.3" x2="394.9" y2="437.2" stroke="#111" stroke-width="1.1" />
<text transform="translate(397.4,442.2) rotate(-90)" font-size="7" text-anchor="end" fill="#1a1a1a" class="t">10<tspan font-size="4.8" dy="-2.7">-5</tspan></text>
<line x1="410.5" y1="434.3" x2="410.5" y2="437.2" stroke="#111" stroke-width="1.1" />
<text transform="translate(413,442.2) rotate(-90)" font-size="7" text-anchor="end" fill="#1a1a1a" class="t">10<tspan font-size="4.8" dy="-2.7">-4</tspan></text>
<line x1="426.1" y1="434.3" x2="426.1" y2="437.2" stroke="#111" stroke-width="1.1" />
<text transform="translate(428.6,442.2) rotate(-90)" font-size="7" text-anchor="end" fill="#1a1a1a" class="t">10<tspan font-size="4.8" dy="-2.7">-3</tspan></text>
<line x1="441.7" y1="434.3" x2="441.7" y2="437.2" stroke="#111" stroke-width="1.1" />
<text transform="translate(444.2,442.2) rotate(-90)" font-size="7" text-anchor="end" fill="#1a1a1a" class="t">10<tspan font-size="4.8" dy="-2.7">-2</tspan></text>
<line x1="457.3" y1="434.3" x2="457.3" y2="437.2" stroke="#111" stroke-width="1.1" />
<text transform="translate(459.8,442.2) rotate(-90)" font-size="7" text-anchor="end" fill="#1a1a1a" class="t">10<tspan font-size="4.8" dy="-2.7">-1</tspan></text>
<line x1="472.9" y1="434.3" x2="472.9" y2="437.2" stroke="#111" stroke-width="1.1" />
<text transform="translate(475.4,442.2) rotate(-90)" font-size="7" text-anchor="end" fill="#1a1a1a" class="t">10<tspan font-size="4.8" dy="-2.7">0</tspan></text>
<line x1="488.5" y1="434.3" x2="488.5" y2="437.2" stroke="#111" stroke-width="1.1" />
<text transform="translate(491,442.2) rotate(-90)" font-size="7" text-anchor="end" fill="#1a1a1a" class="t">10<tspan font-size="4.8" dy="-2.7">1</tspan></text>
<line x1="504.1" y1="434.3" x2="504.1" y2="437.2" stroke="#111" stroke-width="1.1" />
<text transform="translate(506.6,442.2) rotate(-90)" font-size="7" text-anchor="end" fill="#1a1a1a" class="t">10<tspan font-size="4.8" dy="-2.7">2</tspan></text>
<text transform="translate(370.1,379.3) rotate(-90) scale(0.68,1)" font-size="9.1" font-weight="bold" text-anchor="middle" fill="#1a1a1a" class="s">% of Maximum</text>
<text transform="translate(449.3,466.3) scale(0.78,1)" font-size="8.4" font-weight="normal" text-anchor="middle" fill="#1a1a1a" class="m" word-spacing="1.9">[ADC] (nM)</text>
<path d="M410.5 343.13 L411.8 343.13 L413.1 343.13 L414.4 343.13 L415.7 343.13 L417 343.13 L418.3 343.13 L419.6 343.13 L420.9 343.13 L422.2 343.13 L423.5 343.14 L424.8 343.14 L426.1 343.14 L427.4 343.14 L428.7 343.14 L430 343.15 L431.3 343.15 L432.6 343.16 L433.9 343.16 L435.2 343.17 L436.5 343.18 L437.8 343.19 L439.1 343.2 L440.4 343.22 L441.7 343.24 L443 343.27 L444.3 343.3 L445.6 343.34 L446.9 343.39 L448.2 343.45 L449.5 343.52 L450.8 343.61 L452.1 343.73 L453.4 343.87 L454.7 344.04 L456 344.25 L457.3 344.5 L458.6 344.82 L459.9 345.21 L461.2 345.69 L462.5 346.27 L463.8 346.97 L465.1 347.83 L466.4 348.86 L467.7 350.11 L469 351.59 L470.3 353.36 L471.6 355.44 L472.9 357.86 L474.2 360.66 L475.5 363.84 L476.8 367.41 L478.1 371.35 L479.4 375.62 L480.7 380.16 L482 384.88 L483.3 389.68 L484.6 394.46 L485.9 399.11 L487.2 403.55 L488.5 407.69" fill="none" stroke="#e0607a" stroke-width="0.8" stroke-linejoin="round" />
<path d="M410.5 343.13 L411.8 343.13 L413.1 343.13 L414.4 343.13 L415.7 343.13 L417 343.13 L418.3 343.13 L419.6 343.13 L420.9 343.13 L422.2 343.14 L423.5 343.14 L424.8 343.14 L426.1 343.14 L427.4 343.15 L428.7 343.15 L430 343.15 L431.3 343.16 L432.6 343.17 L433.9 343.18 L435.2 343.19 L436.5 343.21 L437.8 343.23 L439.1 343.25 L440.4 343.29 L441.7 343.33 L443 343.38 L444.3 343.44 L445.6 343.52 L446.9 343.62 L448.2 343.75 L449.5 343.91 L450.8 344.11 L452.1 344.36 L453.4 344.67 L454.7 345.06 L456 345.55 L457.3 346.16 L458.6 346.91 L459.9 347.84 L461.2 348.98 L462.5 350.37 L463.8 352.06 L465.1 354.1 L466.4 356.52 L467.7 359.37 L469 362.68 L470.3 366.44 L471.6 370.66 L472.9 375.27 L474.2 380.21 L475.5 385.36 L476.8 390.6 L478.1 395.79 L479.4 400.8 L480.7 405.52 L482 409.85 L483.3 413.75 L484.6 417.18 L485.9 420.15 L487.2 422.69 L488.5 424.83" fill="none" stroke="#1e4a70" stroke-width="1.2" stroke-linejoin="round" />
<path d="M410.5 343.13 L411.8 343.13 L413.1 343.13 L414.4 343.13 L415.7 343.13 L417 343.13 L418.3 343.13 L419.6 343.13 L420.9 343.13 L422.2 343.13 L423.5 343.13 L424.8 343.13 L426.1 343.13 L427.4 343.14 L428.7 343.14 L430 343.14 L431.3 343.14 L432.6 343.14 L433.9 343.14 L435.2 343.15 L436.5 343.15 L437.8 343.15 L439.1 343.16 L440.4 343.17 L441.7 343.17 L443 343.18 L444.3 343.19 L445.6 343.21 L446.9 343.22 L448.2 343.24 L449.5 343.26 L450.8 343.29 L452.1 343.33 L453.4 343.37 L454.7 343.42 L456 343.48 L457.3 343.55 L458.6 343.64 L459.9 343.75 L461.2 343.88 L462.5 344.04 L463.8 344.23 L465.1 344.46 L466.4 344.73 L467.7 345.07 L469 345.47 L470.3 345.95 L471.6 346.52 L472.9 347.2 L474.2 348.02 L475.5 348.99 L476.8 350.13 L478.1 351.48 L479.4 353.05 L480.7 354.88 L482 356.98 L483.3 359.39 L484.6 362.12 L485.9 365.16 L487.2 368.52 L488.5 372.18" fill="none" stroke="#1e2f5a" stroke-width="1.4" stroke-linejoin="round" />
<path d="M410.5 343.13 L411.8 343.13 L413.1 343.13 L414.4 343.13 L415.7 343.13 L417 343.13 L418.3 343.13 L419.6 343.13 L420.9 343.13 L422.2 343.13 L423.5 343.13 L424.8 343.13 L426.1 343.13 L427.4 343.14 L428.7 343.14 L430 343.14 L431.3 343.14 L432.6 343.14 L433.9 343.15 L435.2 343.15 L436.5 343.15 L437.8 343.16 L439.1 343.16 L440.4 343.17 L441.7 343.18 L443 343.19 L444.3 343.2 L445.6 343.22 L446.9 343.23 L448.2 343.25 L449.5 343.28 L450.8 343.31 L452.1 343.35 L453.4 343.4 L454.7 343.45 L456 343.52 L457.3 343.61 L458.6 343.71 L459.9 343.83 L461.2 343.97 L462.5 344.15 L463.8 344.36 L465.1 344.62 L466.4 344.93 L467.7 345.3 L469 345.74 L470.3 346.28 L471.6 346.92 L472.9 347.68 L474.2 348.58 L475.5 349.65 L476.8 350.91 L478.1 352.39 L479.4 354.11 L480.7 356.11 L482 358.39 L483.3 360.99 L484.6 363.91 L485.9 367.14 L487.2 370.69 L488.5 374.51" fill="none" stroke="#b01535" stroke-width="1.3" stroke-linejoin="round" />
<line x1="410.5" y1="332.19" x2="410.5" y2="350.42" stroke="#98b4cc" stroke-width="0.6" />
<line x1="409.3" y1="332.19" x2="411.7" y2="332.19" stroke="#98b4cc" stroke-width="0.6" />
<line x1="409.3" y1="350.42" x2="411.7" y2="350.42" stroke="#98b4cc" stroke-width="0.6" />
<line x1="426.1" y1="334.92" x2="426.1" y2="362.28" stroke="#98b4cc" stroke-width="0.6" />
<line x1="424.9" y1="334.92" x2="427.3" y2="334.92" stroke="#98b4cc" stroke-width="0.6" />
<line x1="424.9" y1="362.28" x2="427.3" y2="362.28" stroke="#98b4cc" stroke-width="0.6" />
<line x1="441.7" y1="330.37" x2="441.7" y2="356.81" stroke="#98b4cc" stroke-width="0.6" />
<line x1="440.5" y1="330.37" x2="442.9" y2="330.37" stroke="#98b4cc" stroke-width="0.6" />
<line x1="440.5" y1="356.81" x2="442.9" y2="356.81" stroke="#98b4cc" stroke-width="0.6" />
<line x1="457.3" y1="340.39" x2="457.3" y2="360.45" stroke="#98b4cc" stroke-width="0.6" />
<line x1="456.1" y1="340.39" x2="458.5" y2="340.39" stroke="#98b4cc" stroke-width="0.6" />
<line x1="456.1" y1="360.45" x2="458.5" y2="360.45" stroke="#98b4cc" stroke-width="0.6" />
<line x1="472.9" y1="337.66" x2="472.9" y2="356.81" stroke="#98b4cc" stroke-width="0.6" />
<line x1="471.7" y1="337.66" x2="474.1" y2="337.66" stroke="#98b4cc" stroke-width="0.6" />
<line x1="471.7" y1="356.81" x2="474.1" y2="356.81" stroke="#98b4cc" stroke-width="0.6" />
<line x1="426.1" y1="356.81" x2="426.1" y2="364.1" stroke="#ef9fb0" stroke-width="0.6" />
<line x1="424.9" y1="356.81" x2="427.3" y2="356.81" stroke="#ef9fb0" stroke-width="0.6" />
<line x1="424.9" y1="364.1" x2="427.3" y2="364.1" stroke="#ef9fb0" stroke-width="0.6" />
<line x1="488.5" y1="365.01" x2="488.5" y2="375.04" stroke="#ef9fb0" stroke-width="0.6" />
<line x1="487.3" y1="365.01" x2="489.7" y2="365.01" stroke="#ef9fb0" stroke-width="0.6" />
<line x1="487.3" y1="375.04" x2="489.7" y2="375.04" stroke="#ef9fb0" stroke-width="0.6" />
<line x1="457.3" y1="342.22" x2="457.3" y2="349.51" stroke="#ef9fb0" stroke-width="0.6" />
<line x1="456.1" y1="342.22" x2="458.5" y2="342.22" stroke="#ef9fb0" stroke-width="0.6" />
<line x1="456.1" y1="349.51" x2="458.5" y2="349.51" stroke="#ef9fb0" stroke-width="0.6" />
<path d="M409.13 360.17L411.87 360.17L410.5 357.36Z" fill="#9b1d3a"/>
<path d="M424.73 359.81L427.46 359.81L426.1 357Z" fill="#9b1d3a"/>
<path d="M440.33 355.25L443.06 355.25L441.7 352.44Z" fill="#9b1d3a"/>
<path d="M471.53 356.62L474.26 356.62L472.9 353.81Z" fill="#9b1d3a"/>
<path d="M487.13 413.05L489.87 413.05L488.5 410.24Z" fill="#9b1d3a"/>
<path d="M409.13 352.89L411.87 352.89L410.5 355.7Z" fill="#9b1d3a"/>
<path d="M424.73 357.81L427.46 357.81L426.1 360.62Z" fill="#9b1d3a"/>
<path d="M440.33 350.52L443.06 350.52L441.7 353.33Z" fill="#9b1d3a"/>
<path d="M455.93 341.95L458.66 341.95L457.3 344.76Z" fill="#9b1d3a"/>
<path d="M471.53 346.51L474.26 346.51L472.9 349.32Z" fill="#9b1d3a"/>
<path d="M487.13 369.3L489.87 369.3L488.5 372.11Z" fill="#9b1d3a"/>
<path d="M409.13 341.95L411.87 341.95L410.5 344.76Z" fill="#224460"/>
<path d="M424.73 349.24L427.46 349.24L426.1 352.05Z" fill="#224460"/>
<path d="M440.33 346.51L443.06 346.51L441.7 349.32Z" fill="#224460"/>
<path d="M455.93 351.07L458.66 351.07L457.3 353.88Z" fill="#224460"/>
<path d="M471.53 341.95L474.26 341.95L472.9 344.76Z" fill="#224460"/>
<path d="M487.13 372.95L489.87 372.95L488.5 375.76Z" fill="#224460"/>
<rect x="409.1" y="342.09" width="2.81" height="2.81" fill="#224460"/>
<rect x="424.7" y="342.09" width="2.81" height="2.81" fill="#224460"/>
<rect x="440.3" y="342.09" width="2.81" height="2.81" fill="#224460"/>
<rect x="455.9" y="350.84" width="2.81" height="2.81" fill="#224460"/>
<rect x="471.5" y="377.28" width="2.81" height="2.81" fill="#224460"/>
<rect x="487.1" y="429.25" width="2.81" height="2.81" fill="#224460"/>
<text class="t" x="96.2" y="493" font-size="9.2" text-anchor="middle" font-weight="normal" fill="#1a1a1a" >CD135-PBD</text>
<line x1="70.75" y1="494.5" x2="121.65" y2="494.5" stroke="#333" stroke-width="0.7" />
<text class="s" x="122.5" y="529.6" font-size="7" text-anchor="middle" font-weight="normal" fill="#1a1a1a" >IC50 Mean ± SEM</text>
<line x1="94" y1="530.8" x2="151" y2="530.8" stroke="#333" stroke-width="0.6" />
<line x1="6.7" y1="538.2" x2="20.2" y2="538.2" stroke="#782436" stroke-width="1.1" />
<rect x="11.34" y="536.04" width="4.32" height="4.32" fill="#bf173d"/>
<text class="s" x="23.6" y="540.7" font-size="7" text-anchor="start" font-weight="normal" fill="#1a1a1a" >CD135-PBD A2F10</text>
<line x1="6.7" y1="549.7" x2="20.2" y2="549.7" stroke="#7c5b37" stroke-width="1.1" />
<path d="M13.5 546.94L16.26 549.7L13.5 552.46L10.74 549.7Z" fill="#c0692a"/>
<text class="s" x="23.6" y="552.2" font-size="7" text-anchor="start" font-weight="normal" fill="#1a1a1a" >Rat IgG2a-PBD</text>
<text class="s" x="123" y="540.7" font-size="7" text-anchor="middle" font-weight="normal" fill="#1a1a1a" >266.1± 137.2 pM</text>
<text class="s" x="123" y="552.2" font-size="7" text-anchor="middle" font-weight="normal" fill="#1a1a1a" >5.58 ± 3.5 nM</text>
<line x1="40.2" y1="583.1" x2="40.2" y2="695.9" stroke="#111" stroke-width="1.3" />
<line x1="37" y1="695.3" x2="152.8" y2="695.3" stroke="#111" stroke-width="1.3" />
<line x1="37" y1="695.3" x2="40.2" y2="695.3" stroke="#111" stroke-width="1.1" />
<text class="t" x="33.2" y="697.8" font-size="7.1" text-anchor="end" font-weight="normal" fill="#1a1a1a" >0</text>
<line x1="37" y1="686.18" x2="40.2" y2="686.18" stroke="#111" stroke-width="1.1" />
<text class="t" x="33.2" y="688.68" font-size="7.1" text-anchor="end" font-weight="normal" fill="#1a1a1a" >10</text>
<line x1="37" y1="677.07" x2="40.2" y2="677.07" stroke="#111" stroke-width="1.1" />
<text class="t" x="33.2" y="679.57" font-size="7.1" text-anchor="end" font-weight="normal" fill="#1a1a1a" >20</text>
<line x1="37" y1="667.95" x2="40.2" y2="667.95" stroke="#111" stroke-width="1.1" />
<text class="t" x="33.2" y="670.45" font-size="7.1" text-anchor="end" font-weight="normal" fill="#1a1a1a" >30</text>
<line x1="37" y1="658.83" x2="40.2" y2="658.83" stroke="#111" stroke-width="1.1" />
<text class="t" x="33.2" y="661.33" font-size="7.1" text-anchor="end" font-weight="normal" fill="#1a1a1a" >40</text>
<line x1="37" y1="649.71" x2="40.2" y2="649.71" stroke="#111" stroke-width="1.1" />
<text class="t" x="33.2" y="652.21" font-size="7.1" text-anchor="end" font-weight="normal" fill="#1a1a1a" >50</text>
<line x1="37" y1="640.6" x2="40.2" y2="640.6" stroke="#111" stroke-width="1.1" />
<text class="t" x="33.2" y="643.1" font-size="7.1" text-anchor="end" font-weight="normal" fill="#1a1a1a" >60</text>
<line x1="37" y1="631.48" x2="40.2" y2="631.48" stroke="#111" stroke-width="1.1" />
<text class="t" x="33.2" y="633.98" font-size="7.1" text-anchor="end" font-weight="normal" fill="#1a1a1a" >70</text>
<line x1="37" y1="622.36" x2="40.2" y2="622.36" stroke="#111" stroke-width="1.1" />
<text class="t" x="33.2" y="624.86" font-size="7.1" text-anchor="end" font-weight="normal" fill="#1a1a1a" >80</text>
<line x1="37" y1="613.25" x2="40.2" y2="613.25" stroke="#111" stroke-width="1.1" />
<text class="t" x="33.2" y="615.75" font-size="7.1" text-anchor="end" font-weight="normal" fill="#1a1a1a" >90</text>
<line x1="37" y1="604.13" x2="40.2" y2="604.13" stroke="#111" stroke-width="1.1" />
<text class="t" x="33.2" y="606.63" font-size="7.1" text-anchor="end" font-weight="normal" fill="#1a1a1a" >100</text>
<line x1="37" y1="595.01" x2="40.2" y2="595.01" stroke="#111" stroke-width="1.1" />
<text class="t" x="33.2" y="597.51" font-size="7.1" text-anchor="end" font-weight="normal" fill="#1a1a1a" >110</text>
<line x1="37" y1="585.9" x2="40.2" y2="585.9" stroke="#111" stroke-width="1.1" />
<text class="t" x="33.2" y="588.4" font-size="7.1" text-anchor="end" font-weight="normal" fill="#1a1a1a" >120</text>
<line x1="40.2" y1="695.3" x2="40.2" y2="698.2" stroke="#111" stroke-width="1.1" />
<text transform="translate(42.7,703.2) rotate(-90)" font-size="7" text-anchor="end" fill="#1a1a1a" class="t">10<tspan font-size="4.8" dy="-2.7">-5</tspan></text>
<line x1="55.8" y1="695.3" x2="55.8" y2="698.2" stroke="#111" stroke-width="1.1" />
<text transform="translate(58.3,703.2) rotate(-90)" font-size="7" text-anchor="end" fill="#1a1a1a" class="t">10<tspan font-size="4.8" dy="-2.7">-4</tspan></text>
<line x1="71.4" y1="695.3" x2="71.4" y2="698.2" stroke="#111" stroke-width="1.1" />
<text transform="translate(73.9,703.2) rotate(-90)" font-size="7" text-anchor="end" fill="#1a1a1a" class="t">10<tspan font-size="4.8" dy="-2.7">-3</tspan></text>
<line x1="87" y1="695.3" x2="87" y2="698.2" stroke="#111" stroke-width="1.1" />
<text transform="translate(89.5,703.2) rotate(-90)" font-size="7" text-anchor="end" fill="#1a1a1a" class="t">10<tspan font-size="4.8" dy="-2.7">-2</tspan></text>
<line x1="102.6" y1="695.3" x2="102.6" y2="698.2" stroke="#111" stroke-width="1.1" />
<text transform="translate(105.1,703.2) rotate(-90)" font-size="7" text-anchor="end" fill="#1a1a1a" class="t">10<tspan font-size="4.8" dy="-2.7">-1</tspan></text>
<line x1="118.2" y1="695.3" x2="118.2" y2="698.2" stroke="#111" stroke-width="1.1" />
<text transform="translate(120.7,703.2) rotate(-90)" font-size="7" text-anchor="end" fill="#1a1a1a" class="t">10<tspan font-size="4.8" dy="-2.7">0</tspan></text>
<line x1="133.8" y1="695.3" x2="133.8" y2="698.2" stroke="#111" stroke-width="1.1" />
<text transform="translate(136.3,703.2) rotate(-90)" font-size="7" text-anchor="end" fill="#1a1a1a" class="t">10<tspan font-size="4.8" dy="-2.7">1</tspan></text>
<line x1="149.4" y1="695.3" x2="149.4" y2="698.2" stroke="#111" stroke-width="1.1" />
<text transform="translate(151.9,703.2) rotate(-90)" font-size="7" text-anchor="end" fill="#1a1a1a" class="t">10<tspan font-size="4.8" dy="-2.7">2</tspan></text>
<text transform="translate(15.4,640.3) rotate(-90) scale(0.68,1)" font-size="9.1" font-weight="bold" text-anchor="middle" fill="#1a1a1a" class="s">% of Maximum</text>
<text transform="translate(96.7,727.3) scale(0.78,1)" font-size="8.4" font-weight="normal" text-anchor="middle" fill="#1a1a1a" class="m" word-spacing="1.9">[ADC] (nM)</text>
<path d="M55.8 604.13 L57.1 604.13 L58.4 604.13 L59.7 604.13 L61 604.13 L62.3 604.13 L63.6 604.13 L64.9 604.13 L66.2 604.13 L67.5 604.13 L68.8 604.13 L70.1 604.13 L71.4 604.13 L72.7 604.13 L74 604.14 L75.3 604.14 L76.6 604.14 L77.9 604.14 L79.2 604.14 L80.5 604.15 L81.8 604.15 L83.1 604.16 L84.4 604.16 L85.7 604.17 L87 604.18 L88.3 604.2 L89.6 604.21 L90.9 604.23 L92.2 604.26 L93.5 604.3 L94.8 604.34 L96.1 604.39 L97.4 604.46 L98.7 604.54 L100 604.65 L101.3 604.79 L102.6 604.95 L103.9 605.16 L105.2 605.43 L106.5 605.76 L107.8 606.17 L109.1 606.69 L110.4 607.32 L111.7 608.12 L113 609.09 L114.3 610.29 L115.6 611.75 L116.9 613.52 L118.2 615.64 L119.5 618.17 L120.8 621.12 L122.1 624.54 L123.4 628.41 L124.7 632.73 L126 637.43 L127.3 642.43 L128.6 647.62 L129.9 652.86 L131.2 658.02 L132.5 662.97 L133.8 667.6" fill="none" stroke="#c9863e" stroke-width="1.0" stroke-linejoin="round" />
<path d="M55.8 603.27 L57.1 603.28 L58.4 603.29 L59.7 603.31 L61 603.32 L62.3 603.34 L63.6 603.37 L64.9 603.4 L66.2 603.43 L67.5 603.47 L68.8 603.52 L70.1 603.57 L71.4 603.64 L72.7 603.72 L74 603.81 L75.3 603.92 L76.6 604.05 L77.9 604.21 L79.2 604.39 L80.5 604.61 L81.8 604.86 L83.1 605.17 L84.4 605.53 L85.7 605.95 L87 606.44 L88.3 607.03 L89.6 607.71 L90.9 608.51 L92.2 609.44 L93.5 610.52 L94.8 611.77 L96.1 613.2 L97.4 614.85 L98.7 616.72 L100 618.83 L101.3 621.2 L102.6 623.83 L103.9 626.72 L105.2 629.87 L106.5 633.26 L107.8 636.85 L109.1 640.62 L110.4 644.51 L111.7 648.46 L113 652.43 L114.3 656.36 L115.6 660.18 L116.9 663.85 L118.2 667.32 L119.5 670.56 L120.8 673.56 L122.1 676.3 L123.4 678.77 L124.7 680.98 L126 682.95 L127.3 684.68 L128.6 686.2 L129.9 687.52 L131.2 688.67 L132.5 689.65 L133.8 690.5" fill="none" stroke="#bf173d" stroke-width="1.2" stroke-linejoin="round" />
<path d="M55.8 616.92L57.59 618.72L55.8 620.51L54.01 618.72Z" fill="#9c5b2c"/>
<line x1="71.4" y1="614.16" x2="71.4" y2="623.28" stroke="#e8b888" stroke-width="0.6" />
<line x1="70.2" y1="614.16" x2="72.6" y2="614.16" stroke="#e8b888" stroke-width="0.6" />
<line x1="70.2" y1="623.28" x2="72.6" y2="623.28" stroke="#e8b888" stroke-width="0.6" />
<path d="M71.4 616.92L73.19 618.72L71.4 620.51L69.61 618.72Z" fill="#9c5b2c"/>
<path d="M87 605.98L88.79 607.78L87 609.57L85.21 607.78Z" fill="#9c5b2c"/>
<path d="M102.6 602.34L104.39 604.13L102.6 605.92L100.81 604.13Z" fill="#9c5b2c"/>
<line x1="118.2" y1="610.79" x2="118.2" y2="618.08" stroke="#e8b888" stroke-width="0.6" />
<line x1="117" y1="610.79" x2="119.4" y2="610.79" stroke="#e8b888" stroke-width="0.6" />
<line x1="117" y1="618.08" x2="119.4" y2="618.08" stroke="#e8b888" stroke-width="0.6" />
<path d="M118.2 612.64L119.99 614.43L118.2 616.23L116.41 614.43Z" fill="#9c5b2c"/>
<path d="M133.8 670.71L135.59 672.51L133.8 674.3L132.01 672.51Z" fill="#9c5b2c"/>
<line x1="55.8" y1="601.39" x2="55.8" y2="606.87" stroke="#ec9aaa" stroke-width="0.6" />
<line x1="54.6" y1="601.39" x2="57" y2="601.39" stroke="#ec9aaa" stroke-width="0.6" />
<line x1="54.6" y1="606.87" x2="57" y2="606.87" stroke="#ec9aaa" stroke-width="0.6" />
<rect x="54.4" y="602.73" width="2.81" height="2.81" fill="#9b1d3a"/>
<line x1="71.4" y1="599.85" x2="71.4" y2="618.08" stroke="#ec9aaa" stroke-width="0.6" />
<line x1="70.2" y1="599.85" x2="72.6" y2="599.85" stroke="#ec9aaa" stroke-width="0.6" />
<line x1="70.2" y1="618.08" x2="72.6" y2="618.08" stroke="#ec9aaa" stroke-width="0.6" />
<rect x="70" y="607.56" width="2.81" height="2.81" fill="#9b1d3a"/>
<line x1="87" y1="605.04" x2="87" y2="612.34" stroke="#ec9aaa" stroke-width="0.6" />
<line x1="85.8" y1="605.04" x2="88.2" y2="605.04" stroke="#ec9aaa" stroke-width="0.6" />
<line x1="85.8" y1="612.34" x2="88.2" y2="612.34" stroke="#ec9aaa" stroke-width="0.6" />
<rect x="85.6" y="607.28" width="2.81" height="2.81" fill="#9b1d3a"/>
<rect x="101.2" y="632.45" width="2.81" height="2.81" fill="#9b1d3a"/>
<rect x="116.8" y="659.8" width="2.81" height="2.81" fill="#9b1d3a"/>
<rect x="132.4" y="667.82" width="2.81" height="2.81" fill="#9b1d3a"/>
<text class="t" x="269.8" y="492.8" font-size="9.2" text-anchor="middle" font-weight="normal" fill="#1a1a1a" >CD184-PBD</text>
<line x1="244.35" y1="494.3" x2="295.25" y2="494.3" stroke="#333" stroke-width="0.7" />
<text class="s" x="302.5" y="524.3" font-size="7" text-anchor="middle" font-weight="normal" fill="#1a1a1a" >IC50 Mean ± SEM</text>
<line x1="274" y1="525.5" x2="331" y2="525.5" stroke="#333" stroke-width="0.6" />
<line x1="180" y1="532.3" x2="192.6" y2="532.3" stroke="#782436" stroke-width="1.1" />
<circle cx="186.4" cy="532.3" r="2.16" fill="#bf173d"/>
<text class="s" x="196.4" y="534.8" font-size="7" text-anchor="start" font-weight="normal" fill="#1a1a1a" >CD184-PBD 2B11</text>
<line x1="180" y1="543.1" x2="192.6" y2="543.1" stroke="#273d50" stroke-width="1.1" />
<circle cx="186.4" cy="543.1" r="2.16" fill="#1e4a70"/>
<text class="s" x="196.4" y="545.6" font-size="7" text-anchor="start" font-weight="normal" fill="#1a1a1a" >CD184-PBD L276F12</text>
<line x1="180" y1="554.5" x2="192.6" y2="554.5" stroke="#7c5b37" stroke-width="1.1" />
<path d="M184.3 556.31L188.5 556.31L186.4 551.99Z" fill="#c0692a"/>
<text class="s" x="196.4" y="557" font-size="7" text-anchor="start" font-weight="normal" fill="#1a1a1a" >Rat IgG2b-PBD</text>
<text class="s" x="300.4" y="534.8" font-size="7" text-anchor="middle" font-weight="normal" fill="#1a1a1a" >638.5 ± 83.5 pM</text>
<text class="s" x="300.4" y="545.6" font-size="7" text-anchor="middle" font-weight="normal" fill="#1a1a1a" >29.6 ± 5.34 pM</text>
<text class="s" x="300.4" y="557" font-size="7" text-anchor="middle" font-weight="normal" fill="#1a1a1a" >11.5 ± 1.2 nM</text>
<line x1="215.2" y1="583.1" x2="215.2" y2="695.9" stroke="#111" stroke-width="1.3" />
<line x1="212" y1="695.3" x2="327.8" y2="695.3" stroke="#111" stroke-width="1.3" />
<line x1="212" y1="695.3" x2="215.2" y2="695.3" stroke="#111" stroke-width="1.1" />
<text class="t" x="208.2" y="697.8" font-size="7.1" text-anchor="end" font-weight="normal" fill="#1a1a1a" >0</text>
<line x1="212" y1="686.18" x2="215.2" y2="686.18" stroke="#111" stroke-width="1.1" />
<text class="t" x="208.2" y="688.68" font-size="7.1" text-anchor="end" font-weight="normal" fill="#1a1a1a" >10</text>
<line x1="212" y1="677.07" x2="215.2" y2="677.07" stroke="#111" stroke-width="1.1" />
<text class="t" x="208.2" y="679.57" font-size="7.1" text-anchor="end" font-weight="normal" fill="#1a1a1a" >20</text>
<line x1="212" y1="667.95" x2="215.2" y2="667.95" stroke="#111" stroke-width="1.1" />
<text class="t" x="208.2" y="670.45" font-size="7.1" text-anchor="end" font-weight="normal" fill="#1a1a1a" >30</text>
<line x1="212" y1="658.83" x2="215.2" y2="658.83" stroke="#111" stroke-width="1.1" />
<text class="t" x="208.2" y="661.33" font-size="7.1" text-anchor="end" font-weight="normal" fill="#1a1a1a" >40</text>
<line x1="212" y1="649.71" x2="215.2" y2="649.71" stroke="#111" stroke-width="1.1" />
<text class="t" x="208.2" y="652.21" font-size="7.1" text-anchor="end" font-weight="normal" fill="#1a1a1a" >50</text>
<line x1="212" y1="640.6" x2="215.2" y2="640.6" stroke="#111" stroke-width="1.1" />
<text class="t" x="208.2" y="643.1" font-size="7.1" text-anchor="end" font-weight="normal" fill="#1a1a1a" >60</text>
<line x1="212" y1="631.48" x2="215.2" y2="631.48" stroke="#111" stroke-width="1.1" />
<text class="t" x="208.2" y="633.98" font-size="7.1" text-anchor="end" font-weight="normal" fill="#1a1a1a" >70</text>
<line x1="212" y1="622.36" x2="215.2" y2="622.36" stroke="#111" stroke-width="1.1" />
<text class="t" x="208.2" y="624.86" font-size="7.1" text-anchor="end" font-weight="normal" fill="#1a1a1a" >80</text>
<line x1="212" y1="613.25" x2="215.2" y2="613.25" stroke="#111" stroke-width="1.1" />
<text class="t" x="208.2" y="615.75" font-size="7.1" text-anchor="end" font-weight="normal" fill="#1a1a1a" >90</text>
<line x1="212" y1="604.13" x2="215.2" y2="604.13" stroke="#111" stroke-width="1.1" />
<text class="t" x="208.2" y="606.63" font-size="7.1" text-anchor="end" font-weight="normal" fill="#1a1a1a" >100</text>
<line x1="212" y1="595.01" x2="215.2" y2="595.01" stroke="#111" stroke-width="1.1" />
<text class="t" x="208.2" y="597.51" font-size="7.1" text-anchor="end" font-weight="normal" fill="#1a1a1a" >110</text>
<line x1="212" y1="585.9" x2="215.2" y2="585.9" stroke="#111" stroke-width="1.1" />
<text class="t" x="208.2" y="588.4" font-size="7.1" text-anchor="end" font-weight="normal" fill="#1a1a1a" >120</text>
<line x1="215.2" y1="695.3" x2="215.2" y2="698.2" stroke="#111" stroke-width="1.1" />
<text transform="translate(217.7,703.2) rotate(-90)" font-size="7" text-anchor="end" fill="#1a1a1a" class="t">10<tspan font-size="4.8" dy="-2.7">-5</tspan></text>
<line x1="230.8" y1="695.3" x2="230.8" y2="698.2" stroke="#111" stroke-width="1.1" />
<text transform="translate(233.3,703.2) rotate(-90)" font-size="7" text-anchor="end" fill="#1a1a1a" class="t">10<tspan font-size="4.8" dy="-2.7">-4</tspan></text>
<line x1="246.4" y1="695.3" x2="246.4" y2="698.2" stroke="#111" stroke-width="1.1" />
<text transform="translate(248.9,703.2) rotate(-90)" font-size="7" text-anchor="end" fill="#1a1a1a" class="t">10<tspan font-size="4.8" dy="-2.7">-3</tspan></text>
<line x1="262" y1="695.3" x2="262" y2="698.2" stroke="#111" stroke-width="1.1" />
<text transform="translate(264.5,703.2) rotate(-90)" font-size="7" text-anchor="end" fill="#1a1a1a" class="t">10<tspan font-size="4.8" dy="-2.7">-2</tspan></text>
<line x1="277.6" y1="695.3" x2="277.6" y2="698.2" stroke="#111" stroke-width="1.1" />
<text transform="translate(280.1,703.2) rotate(-90)" font-size="7" text-anchor="end" fill="#1a1a1a" class="t">10<tspan font-size="4.8" dy="-2.7">-1</tspan></text>
<line x1="293.2" y1="695.3" x2="293.2" y2="698.2" stroke="#111" stroke-width="1.1" />
<text transform="translate(295.7,703.2) rotate(-90)" font-size="7" text-anchor="end" fill="#1a1a1a" class="t">10<tspan font-size="4.8" dy="-2.7">0</tspan></text>
<line x1="308.8" y1="695.3" x2="308.8" y2="698.2" stroke="#111" stroke-width="1.1" />
<text transform="translate(311.3,703.2) rotate(-90)" font-size="7" text-anchor="end" fill="#1a1a1a" class="t">10<tspan font-size="4.8" dy="-2.7">1</tspan></text>
<line x1="324.4" y1="695.3" x2="324.4" y2="698.2" stroke="#111" stroke-width="1.1" />
<text transform="translate(326.9,703.2) rotate(-90)" font-size="7" text-anchor="end" fill="#1a1a1a" class="t">10<tspan font-size="4.8" dy="-2.7">2</tspan></text>
<text transform="translate(190.4,640.3) rotate(-90) scale(0.68,1)" font-size="9.1" font-weight="bold" text-anchor="middle" fill="#1a1a1a" class="s">% of Maximum</text>
<text transform="translate(269.6,727.3) scale(0.78,1)" font-size="8.4" font-weight="normal" text-anchor="middle" fill="#1a1a1a" class="m" word-spacing="1.9">[ADC] (nM)</text>
<path d="M230.8 604.13 L232.1 604.13 L233.4 604.13 L234.7 604.13 L236 604.13 L237.3 604.13 L238.6 604.13 L239.9 604.13 L241.2 604.13 L242.5 604.13 L243.8 604.13 L245.1 604.13 L246.4 604.13 L247.7 604.13 L249 604.13 L250.3 604.13 L251.6 604.13 L252.9 604.14 L254.2 604.14 L255.5 604.14 L256.8 604.14 L258.1 604.14 L259.4 604.15 L260.7 604.15 L262 604.16 L263.3 604.17 L264.6 604.17 L265.9 604.18 L267.2 604.2 L268.5 604.22 L269.8 604.24 L271.1 604.26 L272.4 604.3 L273.7 604.34 L275 604.39 L276.3 604.45 L277.6 604.53 L278.9 604.63 L280.2 604.75 L281.5 604.9 L282.8 605.09 L284.1 605.32 L285.4 605.61 L286.7 605.97 L288 606.41 L289.3 606.96 L290.6 607.63 L291.9 608.45 L293.2 609.45 L294.5 610.67 L295.8 612.15 L297.1 613.91 L298.4 616.02 L299.7 618.49 L301 621.36 L302.3 624.66 L303.6 628.38 L304.9 632.5 L306.2 636.99 L307.5 641.75 L308.8 646.7" fill="none" stroke="#c9863e" stroke-width="1.0" stroke-linejoin="round" />
<path d="M230.8 604.56 L232.1 604.64 L233.4 604.74 L234.7 604.87 L236 605.01 L237.3 605.18 L238.6 605.39 L239.9 605.64 L241.2 605.94 L242.5 606.29 L243.8 606.71 L245.1 607.21 L246.4 607.8 L247.7 608.5 L249 609.32 L250.3 610.29 L251.6 611.42 L252.9 612.74 L254.2 614.27 L255.5 616.04 L256.8 618.05 L258.1 620.34 L259.4 622.92 L260.7 625.78 L262 628.93 L263.3 632.35 L264.6 636.02 L265.9 639.9 L267.2 643.93 L268.5 648.05 L269.8 652.21 L271.1 656.32 L272.4 660.32 L273.7 664.16 L275 667.78 L276.3 671.15 L277.6 674.25 L278.9 677.05 L280.2 679.57 L281.5 681.8 L282.8 683.77 L284.1 685.48 L285.4 686.97 L286.7 688.25 L288 689.35 L289.3 690.28 L290.6 691.08 L291.9 691.76 L293.2 692.33 L294.5 692.81 L295.8 693.22 L297.1 693.56 L298.4 693.84 L299.7 694.08 L301 694.28 L302.3 694.45 L303.6 694.59 L304.9 694.71 L306.2 694.81 L307.5 694.89 L308.8 694.96" fill="none" stroke="#1e4a70" stroke-width="1.2" stroke-linejoin="round" />
<path d="M230.8 604.16 L232.1 604.16 L233.4 604.17 L234.7 604.18 L236 604.19 L237.3 604.2 L238.6 604.21 L239.9 604.23 L241.2 604.25 L242.5 604.27 L243.8 604.29 L245.1 604.33 L246.4 604.36 L247.7 604.41 L249 604.46 L250.3 604.52 L251.6 604.59 L252.9 604.68 L254.2 604.78 L255.5 604.9 L256.8 605.05 L258.1 605.22 L259.4 605.42 L260.7 605.66 L262 605.95 L263.3 606.28 L264.6 606.67 L265.9 607.14 L267.2 607.68 L268.5 608.32 L269.8 609.07 L271.1 609.94 L272.4 610.95 L273.7 612.13 L275 613.48 L276.3 615.03 L277.6 616.8 L278.9 618.81 L280.2 621.06 L281.5 623.57 L282.8 626.34 L284.1 629.37 L285.4 632.64 L286.7 636.13 L288 639.8 L289.3 643.61 L290.6 647.51 L291.9 651.45 L293.2 655.35 L294.5 659.18 L295.8 662.87 L297.1 666.38 L298.4 669.68 L299.7 672.74 L301 675.54 L302.3 678.08 L303.6 680.37 L304.9 682.4 L306.2 684.2 L307.5 685.77 L308.8 687.15" fill="none" stroke="#bf173d" stroke-width="1.2" stroke-linejoin="round" />
<line x1="230.8" y1="608.69" x2="230.8" y2="626.92" stroke="#e8b888" stroke-width="0.6" />
<line x1="229.6" y1="608.69" x2="232" y2="608.69" stroke="#e8b888" stroke-width="0.6" />
<line x1="229.6" y1="626.92" x2="232" y2="626.92" stroke="#e8b888" stroke-width="0.6" />
<path d="M229.43 618.98L232.16 618.98L230.8 616.18Z" fill="#9c5b2c"/>
<line x1="246.4" y1="602.31" x2="246.4" y2="627.83" stroke="#e8b888" stroke-width="0.6" />
<line x1="245.2" y1="602.31" x2="247.6" y2="602.31" stroke="#e8b888" stroke-width="0.6" />
<line x1="245.2" y1="627.83" x2="247.6" y2="627.83" stroke="#e8b888" stroke-width="0.6" />
<path d="M245.03 616.25L247.76 616.25L246.4 613.44Z" fill="#9c5b2c"/>
<line x1="262" y1="598.66" x2="262" y2="609.6" stroke="#e8b888" stroke-width="0.6" />
<line x1="260.8" y1="598.66" x2="263.2" y2="598.66" stroke="#e8b888" stroke-width="0.6" />
<line x1="260.8" y1="609.6" x2="263.2" y2="609.6" stroke="#e8b888" stroke-width="0.6" />
<path d="M260.63 605.31L263.37 605.31L262 602.5Z" fill="#9c5b2c"/>
<line x1="277.6" y1="592.28" x2="277.6" y2="628.75" stroke="#e8b888" stroke-width="0.6" />
<line x1="276.4" y1="592.28" x2="278.8" y2="592.28" stroke="#e8b888" stroke-width="0.6" />
<line x1="276.4" y1="628.75" x2="278.8" y2="628.75" stroke="#e8b888" stroke-width="0.6" />
<path d="M276.23 611.69L278.96 611.69L277.6 608.88Z" fill="#9c5b2c"/>
<line x1="293.2" y1="595.01" x2="293.2" y2="613.25" stroke="#e8b888" stroke-width="0.6" />
<line x1="292" y1="595.01" x2="294.4" y2="595.01" stroke="#e8b888" stroke-width="0.6" />
<line x1="292" y1="613.25" x2="294.4" y2="613.25" stroke="#e8b888" stroke-width="0.6" />
<path d="M291.83 605.31L294.56 605.31L293.2 602.5Z" fill="#9c5b2c"/>
<path d="M307.43 647.61L310.16 647.61L308.8 644.8Z" fill="#9c5b2c"/>
<line x1="230.8" y1="605.5" x2="230.8" y2="614.61" stroke="#ec9aaa" stroke-width="0.6" />
<line x1="229.6" y1="605.5" x2="232" y2="605.5" stroke="#ec9aaa" stroke-width="0.6" />
<line x1="229.6" y1="614.61" x2="232" y2="614.61" stroke="#ec9aaa" stroke-width="0.6" />
<circle cx="230.8" cy="610.06" r="1.4" fill="#9b1d3a"/>
<line x1="246.4" y1="608.69" x2="246.4" y2="617.81" stroke="#ec9aaa" stroke-width="0.6" />
<line x1="245.2" y1="608.69" x2="247.6" y2="608.69" stroke="#ec9aaa" stroke-width="0.6" />
<line x1="245.2" y1="617.81" x2="247.6" y2="617.81" stroke="#ec9aaa" stroke-width="0.6" />
<circle cx="246.4" cy="613.25" r="1.4" fill="#9b1d3a"/>
<circle cx="262" cy="604.13" r="1.4" fill="#9b1d3a"/>
<circle cx="277.6" cy="610.51" r="1.4" fill="#9b1d3a"/>
<line x1="293.2" y1="651.54" x2="293.2" y2="667.95" stroke="#ec9aaa" stroke-width="0.6" />
<line x1="292" y1="651.54" x2="294.4" y2="651.54" stroke="#ec9aaa" stroke-width="0.6" />
<line x1="292" y1="667.95" x2="294.4" y2="667.95" stroke="#ec9aaa" stroke-width="0.6" />
<circle cx="293.2" cy="659.74" r="1.4" fill="#9b1d3a"/>
<circle cx="308.8" cy="695.3" r="1.4" fill="#9b1d3a"/>
<line x1="230.8" y1="599.57" x2="230.8" y2="608.69" stroke="#98b4cc" stroke-width="0.6" />
<line x1="229.6" y1="599.57" x2="232" y2="599.57" stroke="#98b4cc" stroke-width="0.6" />
<line x1="229.6" y1="608.69" x2="232" y2="608.69" stroke="#98b4cc" stroke-width="0.6" />
<circle cx="230.8" cy="604.13" r="1.4" fill="#224460"/>
<circle cx="246.4" cy="620.54" r="1.4" fill="#224460"/>
<circle cx="262" cy="617.81" r="1.4" fill="#224460"/>
<line x1="277.6" y1="675.24" x2="277.6" y2="684.36" stroke="#98b4cc" stroke-width="0.6" />
<line x1="276.4" y1="675.24" x2="278.8" y2="675.24" stroke="#98b4cc" stroke-width="0.6" />
<line x1="276.4" y1="684.36" x2="278.8" y2="684.36" stroke="#98b4cc" stroke-width="0.6" />
<circle cx="277.6" cy="679.8" r="1.4" fill="#224460"/>
<circle cx="293.2" cy="694.84" r="1.4" fill="#224460"/>
<circle cx="308.8" cy="695.03" r="1.4" fill="#224460"/>
<text class="t" x="449.4" y="493" font-size="9.2" text-anchor="middle" font-weight="normal" fill="#1a1a1a" >MHC II-PBD</text>
<line x1="423.95" y1="494.5" x2="474.85" y2="494.5" stroke="#333" stroke-width="0.7" />
<text class="s" x="484.5" y="508.1" font-size="7" text-anchor="middle" font-weight="normal" fill="#1a1a1a" >IC50 Mean ± SEM</text>
<line x1="456" y1="509.3" x2="513" y2="509.3" stroke="#333" stroke-width="0.6" />
<line x1="357.1" y1="516.3" x2="370.6" y2="516.3" stroke="#6c242e" stroke-width="1.1" />
<rect x="361.84" y="514.14" width="4.32" height="4.32" fill="#a8182c"/>
<text class="s" x="373.9" y="518.8" font-size="7" text-anchor="start" font-weight="normal" fill="#1a1a1a" >MHC II KH74-PBD</text>
<line x1="357.1" y1="526.9" x2="370.6" y2="526.9" stroke="#386f3d" stroke-width="1.1" />
<path d="M361.9 525.09L366.1 525.09L364 529.41Z" fill="#3fae4a"/>
<text class="s" x="373.9" y="529.4" font-size="7" text-anchor="start" font-weight="normal" fill="#1a1a1a" >MHC II M5/114-PBD</text>
<line x1="357.1" y1="537.9" x2="370.6" y2="537.9" stroke="#273d50" stroke-width="1.1" />
<path d="M361.9 539.71L366.1 539.71L364 535.39Z" fill="#1e4a70"/>
<text class="s" x="373.9" y="540.4" font-size="7" text-anchor="start" font-weight="normal" fill="#1a1a1a" >MHC II AF6-120.1-PBD</text>
<line x1="357.1" y1="549.2" x2="370.6" y2="549.2" stroke="#905d4d" stroke-width="1.1" />
<path d="M364 546.44L366.76 549.2L364 551.96L361.24 549.2Z" fill="#eaa22a"/>
<text class="s" x="373.9" y="551.7" font-size="7" text-anchor="start" font-weight="normal" fill="#1a1a1a" >MHC II 25-9-17-PBD</text>
<line x1="357.1" y1="560.1" x2="370.6" y2="560.1" stroke="#784c2d" stroke-width="1.1" />
<circle cx="364" cy="560.1" r="2.16" fill="#c0692a"/>
<text class="s" x="373.9" y="562.6" font-size="7" text-anchor="start" font-weight="normal" fill="#1a1a1a" >Mouse IgG2a-PBD</text>
<line x1="357.1" y1="570.8" x2="370.6" y2="570.8" stroke="#9ad4a0" stroke-width="0.8" stroke-dasharray="0.8,1.2"/>
<rect x="361.84" y="568.64" width="4.32" height="4.32" fill="#48b85a"/>
<text class="s" x="373.9" y="573.3" font-size="7" text-anchor="start" font-weight="normal" fill="#1a1a1a" >Rat IgG2b-PBD</text>
<text class="s" x="484.5" y="518.8" font-size="7" text-anchor="middle" font-weight="normal" fill="#1a1a1a" >154.9 ± 75.8 pM</text>
<text class="s" x="484.5" y="529.4" font-size="7" text-anchor="middle" font-weight="normal" fill="#1a1a1a" >2.08 ± 0.63 nM</text>
<text class="s" x="484.5" y="540.4" font-size="7" text-anchor="middle" font-weight="normal" fill="#1a1a1a" >2.13 ± 0.61 nM</text>
<text class="s" x="484.5" y="551.7" font-size="7" text-anchor="middle" font-weight="normal" fill="#1a1a1a" >1.85 ± 0.18 nM</text>
<text class="s" x="484.5" y="562.6" font-size="7" text-anchor="middle" font-weight="normal" fill="#1a1a1a" >7.89 ± 2.94 nM</text>
<text class="s" x="484.5" y="573.3" font-size="7" text-anchor="middle" font-weight="normal" fill="#1a1a1a" >11.5 ± 1.2 nM</text>
<line x1="394.9" y1="583.1" x2="394.9" y2="695.9" stroke="#111" stroke-width="1.3" />
<line x1="391.7" y1="695.3" x2="507.5" y2="695.3" stroke="#111" stroke-width="1.3" />
<line x1="391.7" y1="695.3" x2="394.9" y2="695.3" stroke="#111" stroke-width="1.1" />
<text class="t" x="387.9" y="697.8" font-size="7.1" text-anchor="end" font-weight="normal" fill="#1a1a1a" >0</text>
<line x1="391.7" y1="686.18" x2="394.9" y2="686.18" stroke="#111" stroke-width="1.1" />
<text class="t" x="387.9" y="688.68" font-size="7.1" text-anchor="end" font-weight="normal" fill="#1a1a1a" >10</text>
<line x1="391.7" y1="677.07" x2="394.9" y2="677.07" stroke="#111" stroke-width="1.1" />
<text class="t" x="387.9" y="679.57" font-size="7.1" text-anchor="end" font-weight="normal" fill="#1a1a1a" >20</text>
<line x1="391.7" y1="667.95" x2="394.9" y2="667.95" stroke="#111" stroke-width="1.1" />
<text class="t" x="387.9" y="670.45" font-size="7.1" text-anchor="end" font-weight="normal" fill="#1a1a1a" >30</text>
<line x1="391.7" y1="658.83" x2="394.9" y2="658.83" stroke="#111" stroke-width="1.1" />
<text class="t" x="387.9" y="661.33" font-size="7.1" text-anchor="end" font-weight="normal" fill="#1a1a1a" >40</text>
<line x1="391.7" y1="649.71" x2="394.9" y2="649.71" stroke="#111" stroke-width="1.1" />
<text class="t" x="387.9" y="652.21" font-size="7.1" text-anchor="end" font-weight="normal" fill="#1a1a1a" >50</text>
<line x1="391.7" y1="640.6" x2="394.9" y2="640.6" stroke="#111" stroke-width="1.1" />
<text class="t" x="387.9" y="643.1" font-size="7.1" text-anchor="end" font-weight="normal" fill="#1a1a1a" >60</text>
<line x1="391.7" y1="631.48" x2="394.9" y2="631.48" stroke="#111" stroke-width="1.1" />
<text class="t" x="387.9" y="633.98" font-size="7.1" text-anchor="end" font-weight="normal" fill="#1a1a1a" >70</text>
<line x1="391.7" y1="622.36" x2="394.9" y2="622.36" stroke="#111" stroke-width="1.1" />
<text class="t" x="387.9" y="624.86" font-size="7.1" text-anchor="end" font-weight="normal" fill="#1a1a1a" >80</text>
<line x1="391.7" y1="613.25" x2="394.9" y2="613.25" stroke="#111" stroke-width="1.1" />
<text class="t" x="387.9" y="615.75" font-size="7.1" text-anchor="end" font-weight="normal" fill="#1a1a1a" >90</text>
<line x1="391.7" y1="604.13" x2="394.9" y2="604.13" stroke="#111" stroke-width="1.1" />
<text class="t" x="387.9" y="606.63" font-size="7.1" text-anchor="end" font-weight="normal" fill="#1a1a1a" >100</text>
<line x1="391.7" y1="595.01" x2="394.9" y2="595.01" stroke="#111" stroke-width="1.1" />
<text class="t" x="387.9" y="597.51" font-size="7.1" text-anchor="end" font-weight="normal" fill="#1a1a1a" >110</text>
<line x1="391.7" y1="585.9" x2="394.9" y2="585.9" stroke="#111" stroke-width="1.1" />
<text class="t" x="387.9" y="588.4" font-size="7.1" text-anchor="end" font-weight="normal" fill="#1a1a1a" >120</text>
<line x1="394.9" y1="695.3" x2="394.9" y2="698.2" stroke="#111" stroke-width="1.1" />
<text transform="translate(397.4,703.2) rotate(-90)" font-size="7" text-anchor="end" fill="#1a1a1a" class="t">10<tspan font-size="4.8" dy="-2.7">-5</tspan></text>
<line x1="410.5" y1="695.3" x2="410.5" y2="698.2" stroke="#111" stroke-width="1.1" />
<text transform="translate(413,703.2) rotate(-90)" font-size="7" text-anchor="end" fill="#1a1a1a" class="t">10<tspan font-size="4.8" dy="-2.7">-4</tspan></text>
<line x1="426.1" y1="695.3" x2="426.1" y2="698.2" stroke="#111" stroke-width="1.1" />
<text transform="translate(428.6,703.2) rotate(-90)" font-size="7" text-anchor="end" fill="#1a1a1a" class="t">10<tspan font-size="4.8" dy="-2.7">-3</tspan></text>
<line x1="441.7" y1="695.3" x2="441.7" y2="698.2" stroke="#111" stroke-width="1.1" />
<text transform="translate(444.2,703.2) rotate(-90)" font-size="7" text-anchor="end" fill="#1a1a1a" class="t">10<tspan font-size="4.8" dy="-2.7">-2</tspan></text>
<line x1="457.3" y1="695.3" x2="457.3" y2="698.2" stroke="#111" stroke-width="1.1" />
<text transform="translate(459.8,703.2) rotate(-90)" font-size="7" text-anchor="end" fill="#1a1a1a" class="t">10<tspan font-size="4.8" dy="-2.7">-1</tspan></text>
<line x1="472.9" y1="695.3" x2="472.9" y2="698.2" stroke="#111" stroke-width="1.1" />
<text transform="translate(475.4,703.2) rotate(-90)" font-size="7" text-anchor="end" fill="#1a1a1a" class="t">10<tspan font-size="4.8" dy="-2.7">0</tspan></text>
<line x1="488.5" y1="695.3" x2="488.5" y2="698.2" stroke="#111" stroke-width="1.1" />
<text transform="translate(491,703.2) rotate(-90)" font-size="7" text-anchor="end" fill="#1a1a1a" class="t">10<tspan font-size="4.8" dy="-2.7">1</tspan></text>
<line x1="504.1" y1="695.3" x2="504.1" y2="698.2" stroke="#111" stroke-width="1.1" />
<text transform="translate(506.6,703.2) rotate(-90)" font-size="7" text-anchor="end" fill="#1a1a1a" class="t">10<tspan font-size="4.8" dy="-2.7">2</tspan></text>
<text transform="translate(370.1,640.3) rotate(-90) scale(0.68,1)" font-size="9.1" font-weight="bold" text-anchor="middle" fill="#1a1a1a" class="s">% of Maximum</text>
<text transform="translate(449.3,727.3) scale(0.78,1)" font-size="8.4" font-weight="normal" text-anchor="middle" fill="#1a1a1a" class="m" word-spacing="1.9">[ADC] (nM)</text>
<path d="M410.5 604.13 L411.8 604.13 L413.1 604.13 L414.4 604.13 L415.7 604.13 L417 604.13 L418.3 604.13 L419.6 604.13 L420.9 604.13 L422.2 604.13 L423.5 604.13 L424.8 604.13 L426.1 604.13 L427.4 604.13 L428.7 604.13 L430 604.14 L431.3 604.14 L432.6 604.14 L433.9 604.14 L435.2 604.14 L436.5 604.15 L437.8 604.15 L439.1 604.16 L440.4 604.16 L441.7 604.17 L443 604.18 L444.3 604.19 L445.6 604.21 L446.9 604.22 L448.2 604.25 L449.5 604.27 L450.8 604.31 L452.1 604.35 L453.4 604.4 L454.7 604.46 L456 604.54 L457.3 604.63 L458.6 604.75 L459.9 604.9 L461.2 605.07 L462.5 605.29 L463.8 605.56 L465.1 605.89 L466.4 606.3 L467.7 606.79 L469 607.4 L470.3 608.13 L471.6 609.02 L472.9 610.09 L474.2 611.38 L475.5 612.92 L476.8 614.75 L478.1 616.89 L479.4 619.39 L480.7 622.27 L482 625.53 L483.3 629.17 L484.6 633.18 L485.9 637.51 L487.2 642.09 L488.5 646.83" fill="none" stroke="#48b85a" stroke-width="0.9" stroke-linejoin="round" />
<path d="M410.5 604.13 L411.8 604.13 L413.1 604.13 L414.4 604.13 L415.7 604.13 L417 604.13 L418.3 604.13 L419.6 604.13 L420.9 604.13 L422.2 604.13 L423.5 604.13 L424.8 604.14 L426.1 604.14 L427.4 604.14 L428.7 604.14 L430 604.14 L431.3 604.15 L432.6 604.15 L433.9 604.15 L435.2 604.16 L436.5 604.17 L437.8 604.18 L439.1 604.19 L440.4 604.2 L441.7 604.22 L443 604.24 L444.3 604.26 L445.6 604.29 L446.9 604.33 L448.2 604.38 L449.5 604.43 L450.8 604.51 L452.1 604.59 L453.4 604.7 L454.7 604.83 L456 605 L457.3 605.2 L458.6 605.45 L459.9 605.75 L461.2 606.13 L462.5 606.58 L463.8 607.14 L465.1 607.82 L466.4 608.64 L467.7 609.64 L469 610.84 L470.3 612.27 L471.6 613.98 L472.9 616 L474.2 618.35 L475.5 621.07 L476.8 624.18 L478.1 627.67 L479.4 631.54 L480.7 635.75 L482 640.23 L483.3 644.92 L484.6 649.71 L485.9 654.51 L487.2 659.2 L488.5 663.68" fill="none" stroke="#c0692a" stroke-width="1.1" stroke-linejoin="round" />
<path d="M410.5 604.13 L411.8 604.13 L413.1 604.13 L414.4 604.13 L415.7 604.13 L417 604.13 L418.3 604.14 L419.6 604.14 L420.9 604.14 L422.2 604.14 L423.5 604.14 L424.8 604.15 L426.1 604.15 L427.4 604.16 L428.7 604.16 L430 604.17 L431.3 604.18 L432.6 604.19 L433.9 604.21 L435.2 604.22 L436.5 604.25 L437.8 604.27 L439.1 604.31 L440.4 604.35 L441.7 604.4 L443 604.46 L444.3 604.54 L445.6 604.63 L446.9 604.75 L448.2 604.9 L449.5 605.07 L450.8 605.29 L452.1 605.56 L453.4 605.89 L454.7 606.3 L456 606.79 L457.3 607.4 L458.6 608.13 L459.9 609.02 L461.2 610.09 L462.5 611.38 L463.8 612.92 L465.1 614.75 L466.4 616.89 L467.7 619.39 L469 622.27 L470.3 625.53 L471.6 629.17 L472.9 633.18 L474.2 637.51 L475.5 642.09 L476.8 646.83 L478.1 651.64 L479.4 656.4 L480.7 661.02 L482 665.4 L483.3 669.48 L484.6 673.2 L485.9 676.54 L487.2 679.49 L488.5 682.06" fill="none" stroke="#eaa22a" stroke-width="1.0" stroke-linejoin="round" />
<path d="M410.5 604.13 L411.8 604.13 L413.1 604.13 L414.4 604.13 L415.7 604.13 L417 604.13 L418.3 604.14 L419.6 604.14 L420.9 604.14 L422.2 604.14 L423.5 604.14 L424.8 604.14 L426.1 604.15 L427.4 604.15 L428.7 604.16 L430 604.16 L431.3 604.17 L432.6 604.18 L433.9 604.2 L435.2 604.21 L436.5 604.23 L437.8 604.25 L439.1 604.28 L440.4 604.32 L441.7 604.36 L443 604.41 L444.3 604.48 L445.6 604.56 L446.9 604.66 L448.2 604.79 L449.5 604.94 L450.8 605.13 L452.1 605.36 L453.4 605.65 L454.7 606 L456 606.43 L457.3 606.95 L458.6 607.59 L459.9 608.36 L461.2 609.3 L462.5 610.43 L463.8 611.79 L465.1 613.4 L466.4 615.32 L467.7 617.56 L469 620.16 L470.3 623.14 L471.6 626.51 L472.9 630.26 L474.2 634.37 L475.5 638.77 L476.8 643.41 L478.1 648.18 L479.4 652.98 L480.7 657.71 L482 662.27 L483.3 666.58 L484.6 670.56 L485.9 674.18 L487.2 677.41 L488.5 680.25" fill="none" stroke="#3fae4a" stroke-width="1.0" stroke-linejoin="round" />
<path d="M410.5 604.13 L411.8 604.13 L413.1 604.13 L414.4 604.13 L415.7 604.13 L417 604.14 L418.3 604.14 L419.6 604.14 L420.9 604.14 L422.2 604.14 L423.5 604.15 L424.8 604.15 L426.1 604.15 L427.4 604.16 L428.7 604.17 L430 604.18 L431.3 604.19 L432.6 604.2 L433.9 604.22 L435.2 604.24 L436.5 604.26 L437.8 604.3 L439.1 604.33 L440.4 604.38 L441.7 604.44 L443 604.52 L444.3 604.61 L445.6 604.72 L446.9 604.85 L448.2 605.02 L449.5 605.23 L450.8 605.48 L452.1 605.79 L453.4 606.18 L454.7 606.64 L456 607.21 L457.3 607.91 L458.6 608.75 L459.9 609.77 L461.2 611 L462.5 612.46 L463.8 614.21 L465.1 616.26 L466.4 618.66 L467.7 621.42 L469 624.57 L470.3 628.11 L471.6 632.03 L472.9 636.27 L474.2 640.79 L475.5 645.49 L476.8 650.29 L478.1 655.08 L479.4 659.75 L480.7 664.2 L482 668.37 L483.3 672.2 L484.6 675.65 L485.9 678.71 L487.2 681.38 L488.5 683.69" fill="none" stroke="#1e4a70" stroke-width="1.0" stroke-linejoin="round" />
<path d="M410.5 604.16 L411.8 604.16 L413.1 604.17 L414.4 604.18 L415.7 604.19 L417 604.2 L418.3 604.22 L419.6 604.24 L420.9 604.26 L422.2 604.29 L423.5 604.32 L424.8 604.37 L426.1 604.42 L427.4 604.48 L428.7 604.56 L430 604.66 L431.3 604.77 L432.6 604.91 L433.9 605.09 L435.2 605.3 L436.5 605.56 L437.8 605.87 L439.1 606.25 L440.4 606.71 L441.7 607.26 L443 607.93 L444.3 608.74 L445.6 609.7 L446.9 610.85 L448.2 612.22 L449.5 613.83 L450.8 615.73 L452.1 617.92 L453.4 620.45 L454.7 623.32 L456 626.56 L457.3 630.13 L458.6 634.03 L459.9 638.21 L461.2 642.61 L462.5 647.15 L463.8 651.73 L465.1 656.28 L466.4 660.7 L467.7 664.91 L469 668.85 L470.3 672.46 L471.6 675.74 L472.9 678.65 L474.2 681.22 L475.5 683.46 L476.8 685.38 L478.1 687.03 L479.4 688.42 L480.7 689.6 L482 690.59 L483.3 691.41 L484.6 692.1 L485.9 692.66 L487.2 693.13 L488.5 693.52" fill="none" stroke="#a8182c" stroke-width="1.2" stroke-linejoin="round" />
<line x1="410.5" y1="607.78" x2="410.5" y2="615.07" stroke="#b4dcbc" stroke-width="0.6" />
<line x1="409.3" y1="607.78" x2="411.7" y2="607.78" stroke="#b4dcbc" stroke-width="0.6" />
<line x1="409.3" y1="615.07" x2="411.7" y2="615.07" stroke="#b4dcbc" stroke-width="0.6" />
<line x1="426.1" y1="596.84" x2="426.1" y2="633.3" stroke="#b4dcbc" stroke-width="0.6" />
<line x1="424.9" y1="596.84" x2="427.3" y2="596.84" stroke="#b4dcbc" stroke-width="0.6" />
<line x1="424.9" y1="633.3" x2="427.3" y2="633.3" stroke="#b4dcbc" stroke-width="0.6" />
<line x1="441.7" y1="593.19" x2="441.7" y2="611.42" stroke="#b4dcbc" stroke-width="0.6" />
<line x1="440.5" y1="593.19" x2="442.9" y2="593.19" stroke="#b4dcbc" stroke-width="0.6" />
<line x1="440.5" y1="611.42" x2="442.9" y2="611.42" stroke="#b4dcbc" stroke-width="0.6" />
<line x1="457.3" y1="589.09" x2="457.3" y2="628.29" stroke="#b4dcbc" stroke-width="0.6" />
<line x1="456.1" y1="589.09" x2="458.5" y2="589.09" stroke="#b4dcbc" stroke-width="0.6" />
<line x1="456.1" y1="628.29" x2="458.5" y2="628.29" stroke="#b4dcbc" stroke-width="0.6" />
<line x1="472.9" y1="594.1" x2="472.9" y2="610.51" stroke="#b4dcbc" stroke-width="0.6" />
<line x1="471.7" y1="594.1" x2="474.1" y2="594.1" stroke="#b4dcbc" stroke-width="0.6" />
<line x1="471.7" y1="610.51" x2="474.1" y2="610.51" stroke="#b4dcbc" stroke-width="0.6" />
<line x1="472.9" y1="636.95" x2="472.9" y2="649.71" stroke="#b4dcbc" stroke-width="0.6" />
<line x1="471.7" y1="636.95" x2="474.1" y2="636.95" stroke="#b4dcbc" stroke-width="0.6" />
<line x1="471.7" y1="649.71" x2="474.1" y2="649.71" stroke="#b4dcbc" stroke-width="0.6" />
<line x1="488.5" y1="676.15" x2="488.5" y2="683.45" stroke="#b4dcbc" stroke-width="0.6" />
<line x1="487.3" y1="676.15" x2="489.7" y2="676.15" stroke="#b4dcbc" stroke-width="0.6" />
<line x1="487.3" y1="683.45" x2="489.7" y2="683.45" stroke="#b4dcbc" stroke-width="0.6" />
<line x1="410.5" y1="599.57" x2="410.5" y2="606.87" stroke="#ec9aaa" stroke-width="0.6" />
<line x1="409.3" y1="599.57" x2="411.7" y2="599.57" stroke="#ec9aaa" stroke-width="0.6" />
<line x1="409.3" y1="606.87" x2="411.7" y2="606.87" stroke="#ec9aaa" stroke-width="0.6" />
<line x1="441.7" y1="614.16" x2="441.7" y2="619.63" stroke="#ec9aaa" stroke-width="0.6" />
<line x1="440.5" y1="614.16" x2="442.9" y2="614.16" stroke="#ec9aaa" stroke-width="0.6" />
<line x1="440.5" y1="619.63" x2="442.9" y2="619.63" stroke="#ec9aaa" stroke-width="0.6" />
<rect x="409.1" y="613.67" width="2.81" height="2.81" fill="#429650"/>
<rect x="424.7" y="612.75" width="2.81" height="2.81" fill="#429650"/>
<rect x="440.3" y="602.73" width="2.81" height="2.81" fill="#429650"/>
<rect x="455.9" y="612.48" width="2.81" height="2.81" fill="#429650"/>
<rect x="471.5" y="602.73" width="2.81" height="2.81" fill="#429650"/>
<rect x="487.1" y="644.21" width="2.81" height="2.81" fill="#429650"/>
<path d="M409.13 615.26L411.87 615.26L410.5 618.07Z" fill="#3b8e44"/>
<path d="M424.73 614.35L427.46 614.35L426.1 617.15Z" fill="#3b8e44"/>
<path d="M455.93 612.07L458.66 612.07L457.3 614.88Z" fill="#3b8e44"/>
<path d="M471.53 642.15L474.26 642.15L472.9 644.96Z" fill="#3b8e44"/>
<path d="M487.13 678.62L489.87 678.62L488.5 681.43Z" fill="#3b8e44"/>
<path d="M409.13 605.31L411.87 605.31L410.5 602.5Z" fill="#224460"/>
<path d="M424.73 608.96L427.46 608.96L426.1 606.15Z" fill="#224460"/>
<path d="M455.93 608.96L458.66 608.96L457.3 606.15Z" fill="#224460"/>
<path d="M471.53 643.6L474.26 643.6L472.9 640.79Z" fill="#224460"/>
<path d="M487.13 684.63L489.87 684.63L488.5 681.82Z" fill="#224460"/>
<circle cx="410.5" cy="604.13" r="1.4" fill="#9c5b2c"/>
<circle cx="426.1" cy="604.13" r="1.4" fill="#9c5b2c"/>
<circle cx="441.7" cy="604.13" r="1.4" fill="#9c5b2c"/>
<circle cx="457.3" cy="609.05" r="1.4" fill="#9c5b2c"/>
<circle cx="472.9" cy="614.8" r="1.4" fill="#9c5b2c"/>
<circle cx="488.5" cy="662.48" r="1.4" fill="#9c5b2c"/>
<rect x="409.1" y="604.55" width="2.81" height="2.81" fill="#8a1e2d"/>
<rect x="424.7" y="602.73" width="2.81" height="2.81" fill="#8a1e2d"/>
<rect x="440.3" y="615.49" width="2.81" height="2.81" fill="#8a1e2d"/>
<rect x="455.9" y="630.35" width="2.81" height="2.81" fill="#8a1e2d"/>
<rect x="471.5" y="677.12" width="2.81" height="2.81" fill="#8a1e2d"/>
<rect x="487.1" y="691.43" width="2.81" height="2.81" fill="#8a1e2d"/>
</svg>
<div style="position:absolute;left:0;top:0;width:518px;height:735px;border:1px solid #3c3c3c;"></div>
</body></html>
